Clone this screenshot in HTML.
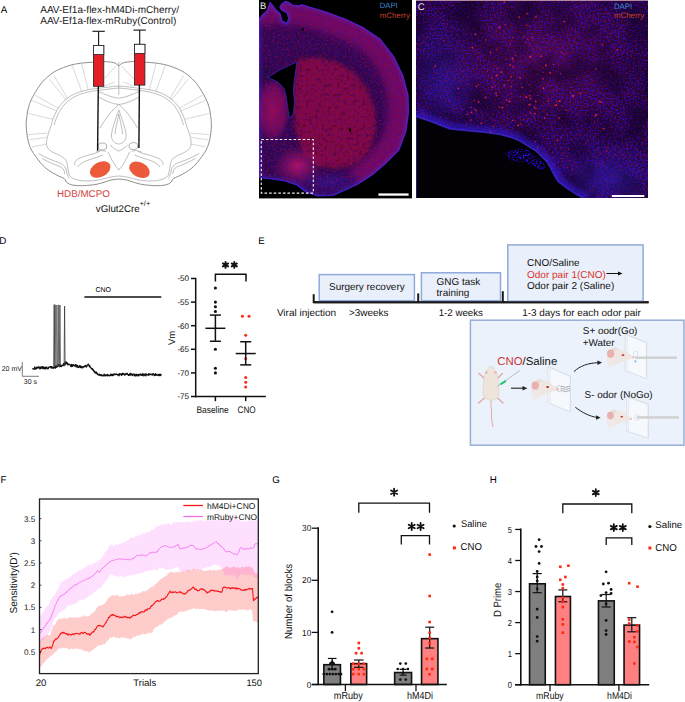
<!DOCTYPE html>
<html><head><meta charset="utf-8"><style>
html,body{margin:0;padding:0;background:#fff;}
svg{display:block;font-family:"Liberation Sans", sans-serif;text-rendering:geometricPrecision;}
</style></head><body>
<svg width="685" height="702" viewBox="0 0 685 702">
<rect width="685" height="702" fill="#fff"/>
<text x="0.8" y="12.9" font-size="9.8" fill="#000" text-anchor="start" font-weight="normal" >A</text>
<text x="40.2" y="12.8" font-size="10.05" fill="#222" text-anchor="start" font-weight="normal" >AAV-Ef1a-flex-hM4Di-mCherry/</text>
<text x="40.2" y="24.0" font-size="10.05" fill="#222" text-anchor="start" font-weight="normal" >AAV-Ef1a-flex-mRuby(Control)</text>
<g fill="none" stroke="#6a6a6a" stroke-width="0.75">
<path d="M118.8,66 C116.5,63.5 114,62.4 111.6,62.2 C108,61.7 105,61.5 103.6,61.6 C96,62 88,62.4 82.4,63 C76,63.8 72,64.6 67.8,66 C62,68 57,70 53.2,72.5 C49,75.5 46,78 43,81.3 C40,84.5 38,88 35.7,91.5 C33,96 31.3,99.5 29.8,103.2 C28.3,107.5 27.3,112 26.9,116.3 C26.4,120 26.1,123 26.2,125.8 C26.4,131 27.2,137 28.4,141.9 C30,148 32.5,152.5 35.7,156.5 C39,161 42,165 45.9,168.2 C50,171.5 54.5,174 59,176.2 C61,177.2 62.8,177.6 64.1,178.4 C65.2,179.3 65.6,180.8 66.3,182 C68,183.6 70,184.5 72.2,185 C75.5,185.6 79,185.8 82.4,185.7 C88,185.5 92,185 97,184.2 C101,183.4 105,182 108.7,180.6 C112,179.6 115.5,179.1 118.8,179.1"/>
<path d="M118.8,66 C116.5,63.5 114,62.4 111.6,62.2 C108,61.7 105,61.5 103.6,61.6 C96,62 88,62.4 82.4,63 C76,63.8 72,64.6 67.8,66 C62,68 57,70 53.2,72.5 C49,75.5 46,78 43,81.3 C40,84.5 38,88 35.7,91.5 C33,96 31.3,99.5 29.8,103.2 C28.3,107.5 27.3,112 26.9,116.3 C26.4,120 26.1,123 26.2,125.8 C26.4,131 27.2,137 28.4,141.9 C30,148 32.5,152.5 35.7,156.5 C39,161 42,165 45.9,168.2 C50,171.5 54.5,174 59,176.2 C61,177.2 62.8,177.6 64.1,178.4 C65.2,179.3 65.6,180.8 66.3,182 C68,183.6 70,184.5 72.2,185 C75.5,185.6 79,185.8 82.4,185.7 C88,185.5 92,185 97,184.2 C101,183.4 105,182 108.7,180.6 C112,179.6 115.5,179.1 118.8,179.1" transform="translate(237.6,0) scale(-1,1)"/>
</g>
<g fill="none" stroke="#a8a8a8" stroke-width="0.45">
<path d="M72.2,65.2 L81.7,91.5 M81.7,64 L88.2,89.7 M49.5,79.1 L66.3,100.3 M53.9,75.4 L67.8,98.8 M35,95.1 L58.3,108.3 M31,100 L57,111 M28.4,113.4 L52.5,119.2 M28.4,134.6 L47.4,133.1 M29.8,139.7 L46.6,137.5 M32,147 L46.6,144 M103.6,79.1 L116,66 M103.6,86.4 L114.5,82"/>
<path d="M72.2,65.2 L81.7,91.5 M81.7,64 L88.2,89.7 M49.5,79.1 L66.3,100.3 M53.9,75.4 L67.8,98.8 M35,95.1 L58.3,108.3 M31,100 L57,111 M28.4,113.4 L52.5,119.2 M28.4,134.6 L47.4,133.1 M29.8,139.7 L46.6,137.5 M32,147 L46.6,144 M103.6,79.1 L116,66 M103.6,86.4 L114.5,82" transform="translate(237.6,0) scale(-1,1)"/>
</g>
<g fill="none" stroke="#8a8a8a" stroke-width="0.55">
<path d="M118.8,86 C112,86.5 104,87.6 98.5,88.3 C94,88.8 90,89.3 86.8,90 C82,91 77.5,92.5 73.6,94.4 C69.5,96.5 66,99 63.4,101.7 C60,105 57.8,108.5 56.1,112 C54,116 52.5,120 51.7,123.6 C50.5,128 49,131 48.1,134.6 C47,138 46.3,141.5 46.6,144.8 C47,147 48,148.8 49.5,150 C52,152 55.5,153.6 59,155 C62,156.5 64,158 65.6,159.4 C67,162 67.5,165 67.8,168.2 C68.3,171 68.8,173.5 69.3,175.5 M118.8,88 C112,88.6 104,89.7 98.8,90.3 C94,90.9 90.5,91.5 87.3,92.2 C82.5,93.3 78.5,94.8 74.8,96.6 C71,98.6 67.8,101 65.3,103.6 C62,107 60,110.5 58.2,114 C56.3,118 55,121.5 54.1,125 M98.5,91.5 C105,94.5 112,97.5 118.8,98.2 M98.5,97 C105,100.5 112,104 118.8,104.5 M118.8,104.5 C112,110 106,118 100,128 M118.8,110 C116,118 112.5,127 111.5,134 C111,140 114,143.5 118.8,144 M118.8,114 C117.5,121 115.5,128 115,134 M38.6,153.6 C46,158 54,161 60,163 C63.5,164.5 65.5,167 66.3,170 C66.8,173 67.5,176 69,178.5 M42,158.5 C49,162.5 56,165 61,167 C63.5,168.5 64.5,171 64.8,174 M69.3,175.5 C72,178.5 76,180 82,180.8 C90,181.5 98,180.5 105,178.5 C110,177 114.5,176.2 118.8,176 M75.1,165.3 C73.5,163 75.5,160 80,158 C85,156 90,154.5 94.1,153.6 C96.5,152.8 98.5,152 99.9,151.4 M77.5,167 C80,163.5 85,161 90,159.5 C95,158 99,156.5 103,155 M96,152 C100,150 104,150.5 106,151.5 M110,145 C113,148 116,150 118.8,151 M108,152 C111,158 114,165 118.8,170"/>
<path d="M118.8,86 C112,86.5 104,87.6 98.5,88.3 C94,88.8 90,89.3 86.8,90 C82,91 77.5,92.5 73.6,94.4 C69.5,96.5 66,99 63.4,101.7 C60,105 57.8,108.5 56.1,112 C54,116 52.5,120 51.7,123.6 C50.5,128 49,131 48.1,134.6 C47,138 46.3,141.5 46.6,144.8 C47,147 48,148.8 49.5,150 C52,152 55.5,153.6 59,155 C62,156.5 64,158 65.6,159.4 C67,162 67.5,165 67.8,168.2 C68.3,171 68.8,173.5 69.3,175.5 M118.8,88 C112,88.6 104,89.7 98.8,90.3 C94,90.9 90.5,91.5 87.3,92.2 C82.5,93.3 78.5,94.8 74.8,96.6 C71,98.6 67.8,101 65.3,103.6 C62,107 60,110.5 58.2,114 C56.3,118 55,121.5 54.1,125 M98.5,91.5 C105,94.5 112,97.5 118.8,98.2 M98.5,97 C105,100.5 112,104 118.8,104.5 M118.8,104.5 C112,110 106,118 100,128 M118.8,110 C116,118 112.5,127 111.5,134 C111,140 114,143.5 118.8,144 M118.8,114 C117.5,121 115.5,128 115,134 M38.6,153.6 C46,158 54,161 60,163 C63.5,164.5 65.5,167 66.3,170 C66.8,173 67.5,176 69,178.5 M42,158.5 C49,162.5 56,165 61,167 C63.5,168.5 64.5,171 64.8,174 M69.3,175.5 C72,178.5 76,180 82,180.8 C90,181.5 98,180.5 105,178.5 C110,177 114.5,176.2 118.8,176 M75.1,165.3 C73.5,163 75.5,160 80,158 C85,156 90,154.5 94.1,153.6 C96.5,152.8 98.5,152 99.9,151.4 M77.5,167 C80,163.5 85,161 90,159.5 C95,158 99,156.5 103,155 M96,152 C100,150 104,150.5 106,151.5 M110,145 C113,148 116,150 118.8,151 M108,152 C111,158 114,165 118.8,170" transform="translate(237.6,0) scale(-1,1)"/>
</g>
<line x1="118.8" y1="62" x2="118.8" y2="95" stroke="#8a8a8a" stroke-width="0.55" />
<ellipse cx="102.4" cy="146.5" rx="4.3" ry="3.5" fill="#fff" stroke="#777" stroke-width="0.6"/>
<ellipse cx="133.4" cy="146.1" rx="4.3" ry="3.5" fill="#fff" stroke="#777" stroke-width="0.6"/>
<ellipse cx="100.2" cy="169.5" rx="11" ry="7.3" transform="rotate(-28 100.2 169.5)" fill="#ec5a3c"/>
<ellipse cx="139.5" cy="169.8" rx="11" ry="7.3" transform="rotate(28 139.5 169.8)" fill="#ec5a3c"/>
<line x1="92.39999999999999" y1="31.3" x2="104.8" y2="31.3" stroke="#111" stroke-width="1.1" />
<line x1="98.6" y1="31.3" x2="98.6" y2="45.5" stroke="#111" stroke-width="1.1" />
<rect x="93.39999999999999" y="45.5" width="10.4" height="40.8" fill="#e41e26" stroke="#222" stroke-width="0.8" />
<rect x="93.39999999999999" y="45.5" width="10.4" height="9.1" fill="#fff" stroke="#222" stroke-width="0.8" />
<line x1="98.3" y1="86.3" x2="97.6" y2="150.7" stroke="#111" stroke-width="1.4" />
<line x1="133.5" y1="30.1" x2="145.89999999999998" y2="30.1" stroke="#111" stroke-width="1.1" />
<line x1="139.7" y1="30.1" x2="139.7" y2="44.3" stroke="#111" stroke-width="1.1" />
<rect x="134.5" y="44.3" width="10.4" height="40.8" fill="#e41e26" stroke="#222" stroke-width="0.8" />
<rect x="134.5" y="44.3" width="10.4" height="9.1" fill="#fff" stroke="#222" stroke-width="0.8" />
<line x1="139.39999999999998" y1="85.1" x2="138.9" y2="148" stroke="#111" stroke-width="1.4" />
<text x="57" y="197.4" font-size="9.8" fill="#d2423a" text-anchor="start" font-weight="normal" >HDB/MCPO</text>
<text x="95.8" y="211.8" font-size="9.75" fill="#111" text-anchor="start" font-weight="normal" >vGlut2Cre</text>
<text x="139.4" y="206.2" font-size="7.6" fill="#111" text-anchor="start" font-weight="normal" >+/+</text>
<defs>
<clipPath id="clipB"><rect x="259" y="0" width="153" height="198.4"/></clipPath>
<clipPath id="clipC"><rect x="416" y="1" width="232" height="197"/></clipPath>
<radialGradient id="gThal" cx="0.5" cy="0.5" r="0.5"><stop offset="0" stop-color="#b8104e" stop-opacity="0.9"/><stop offset="0.7" stop-color="#a00e58" stop-opacity="0.65"/><stop offset="1" stop-color="#a00e58" stop-opacity="0"/></radialGradient>
<radialGradient id="gBox" cx="0.5" cy="0.5" r="0.5"><stop offset="0" stop-color="#d0186a" stop-opacity="0.85"/><stop offset="1" stop-color="#c0186a" stop-opacity="0"/></radialGradient>
<radialGradient id="gBlue" cx="0.5" cy="0.5" r="0.5"><stop offset="0" stop-color="#3020c0" stop-opacity="0.8"/><stop offset="1" stop-color="#3020c0" stop-opacity="0"/></radialGradient>
<filter id="spR" x="0" y="0" width="100%" height="100%" color-interpolation-filters="sRGB"><feTurbulence type="fractalNoise" baseFrequency="0.55" numOctaves="1" seed="4" result="n"/><feColorMatrix in="n" type="matrix" values="0 0 0 0 0.75  0 0 0 0 0.01  0 0 0 0 0.25  4.0 0 0 0 -2.0"/></filter>
<filter id="spB" x="0" y="0" width="100%" height="100%" color-interpolation-filters="sRGB"><feTurbulence type="fractalNoise" baseFrequency="0.6" numOctaves="1" seed="9" result="n"/><feColorMatrix in="n" type="matrix" values="0 0 0 0 0.2  0 0 0 0 0.03  0 0 0 0 1  0 0 4.2 0 -1.9"/></filter>
<filter id="spL" x="0" y="0" width="100%" height="100%" color-interpolation-filters="sRGB"><feTurbulence type="fractalNoise" baseFrequency="0.035" numOctaves="2" seed="7" result="n"/><feColorMatrix in="n" type="matrix" values="0 0 0 0 0.05  0 0 0 0 0  0 0 0 0 0.1  3 0 0 0 -1.2"/></filter>
<filter id="spI" x="0" y="0" width="100%" height="100%" color-interpolation-filters="sRGB"><feTurbulence type="fractalNoise" baseFrequency="0.32" numOctaves="1" seed="17" result="n"/><feColorMatrix in="n" type="matrix" values="0 0 0 0 0.08  0 0 0 0 0.0  0 0 0 0 0.1  -5 0 0 0 2.4"/></filter>
<filter id="spD" x="0" y="0" width="100%" height="100%" color-interpolation-filters="sRGB"><feTurbulence type="fractalNoise" baseFrequency="0.5" numOctaves="1" seed="13" result="n"/><feColorMatrix in="n" type="matrix" values="0 0 0 0 0.05  0 0 0 0 0  0 0 0 0 0.08  0 4 0 0 -1.8"/></filter>
</defs>
<rect x="259" y="0" width="153" height="198.4" fill="#000" stroke="none" stroke-width="1" />
<g clip-path="url(#clipB)">
<path d="M259,19 L263,14.5 L267,11 L270,2.5 L273,6 L276,10 L280,13.5 L282,21 L287.2,23.4 L288.7,18.2 L287.2,13.1 L282,10.2 L279.9,7.3 L281.4,4.4 L285.7,1.5 L289.4,2.9 L292.3,5.1 L298.9,5.8 L301.8,4.7 L307.6,6.6 L326,12 L345,19 L362,27 L380,39 L394,57 L403,76 L408,95 L408.5,112 L406,131 L399,150 L386,163 L372,175 L358,184 L345,190 L333,195.5 L318,196 L306,192 L297,185 L285,181 L272,179 L262,178 L259,177 Z" fill="#300848" stroke="#3a20e0" stroke-width="1.2"/>
<clipPath id="clipTis"><path d="M259,19 L263,14.5 L267,11 L270,2.5 L273,6 L276,10 L280,13.5 L282,21 L287.2,23.4 L288.7,18.2 L287.2,13.1 L282,10.2 L279.9,7.3 L281.4,4.4 L285.7,1.5 L289.4,2.9 L292.3,5.1 L298.9,5.8 L301.8,4.7 L307.6,6.6 L326,12 L345,19 L362,27 L380,39 L394,57 L403,76 L408,95 L408.5,112 L406,131 L399,150 L386,163 L372,175 L358,184 L345,190 L333,195.5 L318,196 L306,192 L297,185 L285,181 L272,179 L262,178 L259,177 Z"/></clipPath>
<g clip-path="url(#clipTis)">
<filter id="bl4" x="-20%" y="-20%" width="140%" height="140%"><feGaussianBlur stdDeviation="4"/></filter>
<filter id="bl2" x="-20%" y="-20%" width="140%" height="140%"><feGaussianBlur stdDeviation="2"/></filter>
<path d="M262,15 L270,2.5 L276,10 L280,13.5 M281.4,4.4 L285.7,1.5 L292.3,5.1 L301.8,4.7 L307.6,6.6 L326,12 L345,19 L362,27 L380,39 L394,57 L403,76 L408,95 L408.5,112 L406,131 L399,150 L386,163 L372,175 L358,184" fill="none" stroke="#b0106a" stroke-width="40" opacity="0.5" filter="url(#bl4)"/>
<ellipse cx="265" cy="72" rx="9" ry="8" fill="#1a0838" opacity="0.6" filter="url(#bl2)"/>
<path d="M297,59 L318,57 L337,62 L355,73 L368,90 L375,110 L376,130 L370,150 L355,164 L336,169 L318,166 L305,156 L298,140 L294,120 L293,100 L295,75 Z" fill="none" stroke="#1e0830" stroke-width="7" opacity="0.35" filter="url(#bl2)"/>
<path d="M297,59 L318,57 L337,62 L355,73 L368,90 L375,110 L376,130 L370,150 L355,164 L336,169 L318,166 L305,156 L298,140 L294,120 L293,100 L295,75 Z" fill="#b81034" opacity="0.6" filter="url(#bl2)"/>
<clipPath id="cStri"><path d="M297,59 L318,57 L337,62 L355,73 L368,90 L375,110 L376,130 L370,150 L355,164 L336,169 L318,166 L305,156 L298,140 L294,120 L293,100 L295,75 Z"/></clipPath>
<g clip-path="url(#cStri)"><rect x="290" y="55" width="90" height="118" filter="url(#spI)" opacity="0.3"/></g>
<ellipse cx="273" cy="110" rx="17" ry="32" fill="url(#gThal)" opacity="0.85"/>
<ellipse cx="298" cy="166" rx="24" ry="20" fill="url(#gBox)" opacity="0.95"/>
<ellipse cx="330" cy="182" rx="40" ry="12" fill="url(#gBlue)" opacity="0.5"/>
<rect x="259" y="0" width="153" height="198" filter="url(#spB)" opacity="0.3"/>
<rect x="259" y="0" width="153" height="198" filter="url(#spR)" opacity="0.45"/>
<path d="M259,19 L263,14.5 L267,11 L270,2.5 L273,6 L276,10 L280,13.5 L282,21 L287.2,23.4 L288.7,18.2 L287.2,13.1 L282,10.2 L279.9,7.3 L281.4,4.4 L285.7,1.5 L289.4,2.9 L292.3,5.1 L298.9,5.8 L301.8,4.7 L307.6,6.6 L326,12 L345,19 L362,27 L380,39 L394,57 L403,76 L408,95 L408.5,112 L406,131 L399,150 L386,163 L372,175 L358,184 L345,190 L333,195.5 L318,196 L306,192 L297,185 L285,181 L272,179 L262,178 L259,177 Z" fill="none" stroke="#4a36e8" stroke-width="3.5" opacity="0.45" filter="url(#bl2)"/>
</g>
<path d="M267.7,77.4 L280.8,69.4 L296.8,62 L296.2,67.1 L294.5,78.5 L293.4,90 L294.5,101.3 L293.4,113.9 L289.4,118.4 L287.7,107 L286,95.6 L284.2,88.8 L278.5,82.5 L271.7,79.1 Z" fill="#000" stroke="#3a2ad0" stroke-width="0.7"/>
<ellipse cx="303" cy="29.5" rx="0.9" ry="1.8" fill="#000"/>
<ellipse cx="350" cy="130" rx="1" ry="2" fill="#000"/>
</g>
<rect x="261.3" y="139.5" width="52" height="53.6" fill="none" stroke="#f4f4f4" stroke-width="1.1" stroke-dasharray="2.6,2"/>
<rect x="378.4" y="193.4" width="30.2" height="2.3" fill="#fff" stroke="none" stroke-width="1" />
<text x="260" y="9.3" font-size="9.4" fill="#f0f0f0" text-anchor="start" font-weight="normal" >B</text>
<text x="379.8" y="7.7" font-size="7.7" fill="#3a88d0" text-anchor="start" font-weight="normal" >DAPI</text>
<text x="379.8" y="17.9" font-size="7.85" fill="#c8402c" text-anchor="start" font-weight="normal" >mCherry</text>
<defs><radialGradient id="gCred" cx="0.5" cy="0.5" r="0.5"><stop offset="0" stop-color="#a01450" stop-opacity="0.6"/><stop offset="1" stop-color="#a01450" stop-opacity="0"/></radialGradient></defs>
<g clip-path="url(#clipC)">
<rect x="416" y="0" width="232" height="198.4" fill="#1e0630" stroke="none" stroke-width="1" />
<ellipse cx="540" cy="60" rx="110" ry="80" fill="url(#gCred)" opacity="0.55"/>
<ellipse cx="600" cy="175" rx="70" ry="45" fill="url(#gBlue)" opacity="0.45"/>
<ellipse cx="450" cy="95" rx="45" ry="40" fill="url(#gBlue)" opacity="0.35"/>
<rect x="416" y="0" width="232" height="198" filter="url(#spB)" opacity="0.7"/>
<rect x="416" y="0" width="232" height="198" filter="url(#spR)" opacity="0.5"/>
<rect x="416" y="0" width="232" height="198" filter="url(#spL)" opacity="0.5"/>
<circle cx="557.7" cy="140.3" r="0.82" fill="#ff2040" opacity="0.79"/>
<circle cx="540.8" cy="157.8" r="0.90" fill="#ff2040" opacity="0.80"/>
<circle cx="494.2" cy="84.0" r="0.50" fill="#ff2040" opacity="0.75"/>
<circle cx="511.3" cy="76.9" r="0.90" fill="#ff2040" opacity="0.69"/>
<circle cx="526.3" cy="97.3" r="1.00" fill="#ff2040" opacity="0.90"/>
<circle cx="566.1" cy="43.9" r="0.52" fill="#ff2040" opacity="0.73"/>
<circle cx="504.2" cy="85.3" r="0.98" fill="#ff2040" opacity="0.75"/>
<circle cx="568.6" cy="149.0" r="0.56" fill="#ff2040" opacity="0.97"/>
<circle cx="474.1" cy="100.4" r="0.67" fill="#ff2040" opacity="0.79"/>
<circle cx="529.5" cy="95.7" r="0.93" fill="#ff2040" opacity="0.69"/>
<circle cx="530.4" cy="56.8" r="0.98" fill="#ff2040" opacity="0.96"/>
<circle cx="527.1" cy="13.8" r="0.79" fill="#ff2040" opacity="0.89"/>
<circle cx="559.3" cy="118.2" r="0.91" fill="#ff2040" opacity="0.68"/>
<circle cx="602.8" cy="44.2" r="0.70" fill="#ff2040" opacity="0.75"/>
<circle cx="485.5" cy="97.5" r="1.00" fill="#ff2040" opacity="0.75"/>
<circle cx="543.3" cy="88.1" r="0.86" fill="#ff2040" opacity="1.00"/>
<circle cx="476.2" cy="86.2" r="0.78" fill="#ff2040" opacity="0.90"/>
<circle cx="535.1" cy="141.7" r="0.78" fill="#ff2040" opacity="0.85"/>
<circle cx="535.8" cy="108.3" r="0.67" fill="#ff2040" opacity="0.97"/>
<circle cx="492.7" cy="131.5" r="0.65" fill="#ff2040" opacity="0.64"/>
<circle cx="595.5" cy="115.9" r="0.89" fill="#ff2040" opacity="0.75"/>
<circle cx="499.4" cy="27.4" r="0.95" fill="#ff2040" opacity="0.98"/>
<circle cx="419.7" cy="154.7" r="0.98" fill="#ff2040" opacity="0.84"/>
<circle cx="561.2" cy="52.3" r="0.69" fill="#ff2040" opacity="0.70"/>
<circle cx="542.8" cy="67.5" r="0.53" fill="#ff2040" opacity="0.92"/>
<circle cx="532.2" cy="37.3" r="0.92" fill="#ff2040" opacity="0.62"/>
<circle cx="523.3" cy="119.7" r="0.71" fill="#ff2040" opacity="0.67"/>
<circle cx="559.6" cy="101.1" r="0.95" fill="#ff2040" opacity="0.99"/>
<circle cx="523.7" cy="37.1" r="0.63" fill="#ff2040" opacity="0.98"/>
<circle cx="458.0" cy="74.1" r="0.51" fill="#ff2040" opacity="0.68"/>
<circle cx="564.4" cy="21.4" r="0.94" fill="#ff2040" opacity="0.84"/>
<circle cx="475.5" cy="109.8" r="0.92" fill="#ff2040" opacity="0.72"/>
<circle cx="492.0" cy="77.8" r="0.88" fill="#ff2040" opacity="0.60"/>
<circle cx="580.8" cy="93.3" r="0.82" fill="#ff2040" opacity="0.94"/>
<circle cx="497.1" cy="68.6" r="0.70" fill="#ff2040" opacity="0.98"/>
<circle cx="543.6" cy="72.4" r="0.55" fill="#ff2040" opacity="0.64"/>
<circle cx="570.1" cy="92.2" r="0.57" fill="#ff2040" opacity="0.95"/>
<circle cx="512.8" cy="66.9" r="0.77" fill="#ff2040" opacity="0.73"/>
<circle cx="495.4" cy="86.1" r="0.58" fill="#ff2040" opacity="0.67"/>
<circle cx="477.5" cy="130.9" r="0.78" fill="#ff2040" opacity="0.62"/>
<circle cx="504.2" cy="2.1" r="0.89" fill="#ff2040" opacity="0.92"/>
<circle cx="571.8" cy="87.3" r="0.53" fill="#ff2040" opacity="0.91"/>
<circle cx="555.0" cy="144.1" r="0.63" fill="#ff2040" opacity="0.88"/>
<circle cx="520.2" cy="96.3" r="0.69" fill="#ff2040" opacity="0.72"/>
<circle cx="553.5" cy="64.5" r="0.75" fill="#ff2040" opacity="0.82"/>
<circle cx="543.1" cy="78.9" r="0.80" fill="#ff2040" opacity="0.80"/>
<circle cx="501.0" cy="145.5" r="0.76" fill="#ff2040" opacity="0.82"/>
<circle cx="596.0" cy="115.1" r="0.99" fill="#ff2040" opacity="0.74"/>
<circle cx="538.0" cy="95.5" r="0.54" fill="#ff2040" opacity="0.93"/>
<circle cx="527.9" cy="39.3" r="0.81" fill="#ff2040" opacity="0.61"/>
<circle cx="497.1" cy="49.2" r="0.76" fill="#ff2040" opacity="0.76"/>
<circle cx="500.5" cy="102.4" r="0.52" fill="#ff2040" opacity="0.77"/>
<circle cx="526.2" cy="150.5" r="0.91" fill="#ff2040" opacity="0.89"/>
<circle cx="495.3" cy="93.4" r="0.69" fill="#ff2040" opacity="0.79"/>
<circle cx="452.0" cy="5.5" r="0.54" fill="#ff2040" opacity="0.79"/>
<circle cx="458.3" cy="88.4" r="0.95" fill="#ff2040" opacity="0.91"/>
<circle cx="475.5" cy="34.4" r="0.83" fill="#ff2040" opacity="0.94"/>
<circle cx="505.0" cy="24.6" r="0.62" fill="#ff2040" opacity="0.97"/>
<circle cx="481.3" cy="123.1" r="0.91" fill="#ff2040" opacity="0.99"/>
<circle cx="529.7" cy="84.7" r="0.66" fill="#ff2040" opacity="0.72"/>
<circle cx="506.7" cy="99.9" r="0.78" fill="#ff2040" opacity="0.63"/>
<circle cx="492.3" cy="180.2" r="0.87" fill="#ff2040" opacity="0.78"/>
<circle cx="606.6" cy="151.0" r="0.85" fill="#ff2040" opacity="0.68"/>
<circle cx="494.3" cy="136.7" r="0.84" fill="#ff2040" opacity="0.70"/>
<circle cx="560.3" cy="73.8" r="0.63" fill="#ff2040" opacity="0.94"/>
<circle cx="561.2" cy="137.2" r="0.60" fill="#ff2040" opacity="0.84"/>
<circle cx="518.0" cy="125.4" r="0.97" fill="#ff2040" opacity="0.79"/>
<circle cx="471.3" cy="107.5" r="0.64" fill="#ff2040" opacity="0.67"/>
<circle cx="499.9" cy="107.2" r="0.59" fill="#ff2040" opacity="0.98"/>
<circle cx="599.8" cy="101.4" r="0.97" fill="#ff2040" opacity="0.88"/>
<circle cx="574.2" cy="90.9" r="0.52" fill="#ff2040" opacity="0.84"/>
<circle cx="515.5" cy="55.4" r="0.50" fill="#ff2040" opacity="0.82"/>
<circle cx="554.9" cy="105.2" r="0.73" fill="#ff2040" opacity="0.96"/>
<circle cx="509.5" cy="101.5" r="0.90" fill="#ff2040" opacity="0.93"/>
<circle cx="511.9" cy="82.5" r="0.59" fill="#ff2040" opacity="0.76"/>
<circle cx="496.6" cy="75.4" r="0.90" fill="#ff2040" opacity="0.94"/>
<circle cx="602.6" cy="45.5" r="0.51" fill="#ff2040" opacity="0.83"/>
<circle cx="603.8" cy="128.6" r="0.87" fill="#ff2040" opacity="0.90"/>
<circle cx="530.6" cy="98.6" r="0.91" fill="#ff2040" opacity="0.84"/>
<circle cx="490.5" cy="52.5" r="0.90" fill="#ff2040" opacity="0.74"/>
<circle cx="520.2" cy="123.9" r="0.65" fill="#ff2040" opacity="0.85"/>
<circle cx="537.4" cy="74.7" r="0.53" fill="#ff2040" opacity="0.80"/>
<circle cx="513.1" cy="60.5" r="0.63" fill="#ff2040" opacity="0.62"/>
<circle cx="572.8" cy="96.4" r="0.84" fill="#ff2040" opacity="0.86"/>
<circle cx="535.7" cy="101.5" r="0.97" fill="#ff2040" opacity="0.82"/>
<circle cx="471.0" cy="120.0" r="0.86" fill="#ff2040" opacity="0.81"/>
<circle cx="594.4" cy="122.2" r="0.61" fill="#ff2040" opacity="0.62"/>
<circle cx="494.0" cy="126.5" r="0.81" fill="#ff2040" opacity="0.67"/>
<circle cx="512.7" cy="37.6" r="0.58" fill="#ff2040" opacity="0.94"/>
<circle cx="512.4" cy="58.4" r="0.89" fill="#ff2040" opacity="0.96"/>
<circle cx="435.2" cy="65.9" r="0.99" fill="#ff2040" opacity="0.76"/>
<circle cx="617.2" cy="49.7" r="0.90" fill="#ff2040" opacity="0.60"/>
<circle cx="490.4" cy="131.4" r="0.80" fill="#ff2040" opacity="0.90"/>
<circle cx="510.0" cy="65.1" r="0.97" fill="#ff2040" opacity="0.81"/>
<circle cx="546.0" cy="65.6" r="1.00" fill="#ff2040" opacity="0.82"/>
<circle cx="536.0" cy="17.0" r="0.94" fill="#ff2040" opacity="0.74"/>
<circle cx="562.2" cy="106.3" r="0.59" fill="#ff2040" opacity="0.82"/>
<circle cx="540.8" cy="48.4" r="0.57" fill="#ff2040" opacity="0.61"/>
<circle cx="476.0" cy="110.8" r="0.51" fill="#ff2040" opacity="0.87"/>
<circle cx="529.9" cy="104.4" r="0.96" fill="#ff2040" opacity="0.81"/>
<circle cx="564.9" cy="54.1" r="0.56" fill="#ff2040" opacity="0.70"/>
<circle cx="471.6" cy="112.5" r="0.89" fill="#ff2040" opacity="0.90"/>
<circle cx="506.3" cy="59.0" r="0.72" fill="#ff2040" opacity="0.75"/>
<circle cx="492.1" cy="87.2" r="0.77" fill="#ff2040" opacity="0.78"/>
<circle cx="601.2" cy="102.3" r="0.79" fill="#ff2040" opacity="0.92"/>
<circle cx="519.3" cy="17.2" r="1.00" fill="#ff2040" opacity="0.75"/>
<circle cx="522.1" cy="87.3" r="0.83" fill="#ff2040" opacity="0.83"/>
<circle cx="534.9" cy="113.5" r="0.87" fill="#ff2040" opacity="0.92"/>
<circle cx="511.0" cy="86.5" r="0.69" fill="#ff2040" opacity="0.93"/>
<circle cx="478.3" cy="85.0" r="0.69" fill="#ff2040" opacity="0.85"/>
<circle cx="472.4" cy="47.6" r="0.93" fill="#ff2040" opacity="0.90"/>
<circle cx="502.5" cy="107.6" r="0.89" fill="#ff2040" opacity="0.92"/>
<circle cx="550.2" cy="72.8" r="0.92" fill="#ff2040" opacity="0.96"/>
<circle cx="556.9" cy="101.8" r="0.82" fill="#ff2040" opacity="0.66"/>
<circle cx="541.1" cy="56.2" r="0.84" fill="#ff2040" opacity="0.72"/>
<circle cx="530.7" cy="113.0" r="0.75" fill="#ff2040" opacity="0.89"/>
<circle cx="537.8" cy="147.7" r="0.67" fill="#ff2040" opacity="0.86"/>
<circle cx="506.4" cy="105.3" r="0.57" fill="#ff2040" opacity="0.62"/>
<circle cx="510.6" cy="44.0" r="0.56" fill="#ff2040" opacity="0.95"/>
<circle cx="520.1" cy="77.8" r="0.86" fill="#ff2040" opacity="0.84"/>
<circle cx="478.6" cy="102.1" r="0.98" fill="#ff2040" opacity="0.75"/>
<circle cx="485.9" cy="39.9" r="0.68" fill="#ff2040" opacity="0.74"/>
<circle cx="526.9" cy="25.3" r="0.73" fill="#ff2040" opacity="0.81"/>
<circle cx="537.3" cy="158.1" r="0.51" fill="#ff2040" opacity="0.86"/>
<circle cx="496.5" cy="93.3" r="0.79" fill="#ff2040" opacity="0.83"/>
<circle cx="566.7" cy="110.3" r="0.58" fill="#ff2040" opacity="0.92"/>
<circle cx="507.6" cy="118.2" r="0.61" fill="#ff2040" opacity="0.62"/>
<circle cx="534.3" cy="107.2" r="0.81" fill="#ff2040" opacity="0.94"/>
<circle cx="528.7" cy="105.1" r="0.77" fill="#ff2040" opacity="0.65"/>
<circle cx="466.2" cy="124.8" r="0.60" fill="#ff2040" opacity="0.88"/>
<circle cx="507.8" cy="80.7" r="0.62" fill="#ff2040" opacity="0.84"/>
<circle cx="548.3" cy="101.1" r="0.79" fill="#ff2040" opacity="0.93"/>
<circle cx="463.5" cy="77.1" r="0.50" fill="#ff2040" opacity="0.72"/>
<circle cx="486.4" cy="169.5" r="0.68" fill="#ff2040" opacity="0.91"/>
<circle cx="573.2" cy="95.6" r="0.95" fill="#ff2040" opacity="0.91"/>
<circle cx="501.6" cy="72.2" r="0.96" fill="#ff2040" opacity="0.63"/>
<circle cx="595.9" cy="69.0" r="0.86" fill="#ff2040" opacity="0.81"/>
<circle cx="544.7" cy="117.9" r="0.83" fill="#ff2040" opacity="0.86"/>
<circle cx="467.0" cy="133.4" r="0.53" fill="#ff2040" opacity="0.71"/>
<circle cx="556.4" cy="105.0" r="0.90" fill="#ff2040" opacity="0.90"/>
<circle cx="546.3" cy="114.1" r="0.56" fill="#ff2040" opacity="0.86"/>
<circle cx="496.5" cy="95.8" r="0.69" fill="#ff2040" opacity="0.95"/>
<circle cx="467.6" cy="114.2" r="0.81" fill="#ff2040" opacity="0.79"/>
<circle cx="487.5" cy="71.1" r="0.60" fill="#ff2040" opacity="0.80"/>
<circle cx="512.4" cy="120.4" r="0.59" fill="#ff2040" opacity="0.97"/>
<ellipse cx="440" cy="70" rx="35" ry="60" fill="url(#gBlue)" opacity="0.35"/>
<path d="M416,116.4 L432,122 L450,128.9 L470,131 L484,132.3 L500,134.5 L511,137.4 L520,141 L528,146 L536,151 L542,157 L547,162 L550,167 L553,173 L558,181.4 L565,187 L572,191.6 L582,197.7 L582,199 L416,199 Z" fill="none" stroke="#3420ff" stroke-width="12" opacity="0.45" filter="url(#bl2)"/>
<ellipse cx="610" cy="180" rx="45" ry="25" fill="url(#gBlue)" opacity="0.5"/>
<path d="M416,116.4 L432,122 L450,128.9 L470,131 L484,132.3 L500,134.5 L511,137.4 L520,141 L528,146 L536,151 L542,157 L547,162 L550,167 L553,173 L558,181.4 L565,187 L572,191.6 L582,197.7 L582,199 L416,199 Z" fill="#030006"/>
<path d="M416,116.4 L432,122 L450,128.9 L470,131 L484,132.3 L500,134.5 L511,137.4 L520,141 L528,146 L536,151 L542,157 L547,162 L550,167 L553,173 L558,181.4 L565,187 L572,191.6 L582,197.7 L582,199 L416,199 Z" fill="none" stroke="#4a36f0" stroke-width="1.5" opacity="0.6"/>
<clipPath id="cPatch"><path d="M505,153 L518,148 L528,150 L534,156 L541,160 L546,166 L542,171 L534,166 L522,162 L510,161 Z"/></clipPath>
<g clip-path="url(#cPatch)"><rect x="500" y="140" width="50" height="35" filter="url(#spB)" opacity="0.9"/></g>
</g>
<rect x="416" y="0" width="232" height="0.9" fill="#a87a94" stroke="none" stroke-width="1" />
<rect x="611.8" y="195" width="32.5" height="2" fill="#fff" stroke="none" stroke-width="1" />
<text x="417.8" y="10.4" font-size="9.6" fill="#f0f0f0" text-anchor="start" font-weight="normal" >C</text>
<text x="613.9" y="9.4" font-size="7.9" fill="#3a88d0" text-anchor="start" font-weight="normal" >DAPI</text>
<text x="613.9" y="18.4" font-size="7.9" fill="#c8402c" text-anchor="start" font-weight="normal" >mCherry</text>
<text x="-0.7" y="244.2" font-size="9.8" fill="#000" text-anchor="start" font-weight="normal" >D</text>
<text x="95.5" y="292" font-size="7.0" fill="#000" text-anchor="start" font-weight="normal" >CNO</text>
<line x1="84.4" y1="297" x2="161.3" y2="297" stroke="#111" stroke-width="1.3" />
<path d="M32.30,368.47 L32.70,368.71 L33.10,368.81 L33.50,369.11 L33.90,368.64 L34.30,369.03 L34.70,367.04 L35.10,367.98 L35.50,369.01 L35.90,368.34 L36.30,368.87 L36.70,367.12 L37.10,367.88 L37.50,367.37 L37.90,368.01 L38.30,368.05 L38.70,366.80 L39.10,367.22 L39.50,367.34 L39.90,368.72 L40.30,368.38 L40.70,367.04 L41.10,368.44 L41.50,366.98 L41.90,368.03 L42.30,366.94 L42.70,366.66 L43.10,368.57 L43.50,367.11 L43.90,367.12 L44.30,368.80 L44.70,368.55 L45.10,367.26 L45.50,368.73 L45.90,367.80 L46.30,368.10 L46.70,367.05 L47.10,368.66 L47.50,368.11 L47.90,368.71 L48.30,368.54 L48.70,367.23 L49.10,367.36 L49.50,366.92 L49.90,366.87 L50.30,366.69 L50.70,367.20 L51.10,367.86 L51.50,366.54 L51.90,368.02 L52.30,367.26 L52.70,367.19 L53.10,368.31 L53.50,367.56 L53.90,367.07 L54.30,367.30 L54.70,367.67 L55.10,366.11 L55.50,368.01 L55.90,365.78 L56.30,367.20 L56.70,367.21 L57.10,365.19 L57.50,366.68 L57.90,365.56 L58.30,365.96 L58.70,364.68 L59.10,364.75 L59.50,365.02 L59.90,366.71 L60.30,365.02 L60.70,366.23 L61.10,366.59 L61.50,366.60 L61.90,365.26 L62.30,365.09 L62.70,365.21 L63.10,365.50 L63.50,363.78 L63.90,364.93 L64.30,364.78 L64.70,364.62 L65.10,362.47 L65.50,364.13 L65.90,361.91 L66.30,362.12 L66.70,362.77 L67.10,363.90 L67.50,363.08 L67.90,364.82 L68.30,364.34 L68.70,364.15 L69.10,364.48 L69.50,364.49 L69.90,364.59 L70.30,364.80 L70.70,365.95 L71.10,366.58 L71.50,364.71 L71.90,364.42 L72.30,366.44 L72.70,365.40 L73.10,365.08 L73.50,364.67 L73.90,365.42 L74.30,366.02 L74.70,365.33 L75.10,365.39 L75.50,364.71 L75.90,366.73 L76.30,364.92 L76.70,366.06 L77.10,366.95 L77.50,365.52 L77.90,366.98 L78.30,367.51 L78.70,366.84 L79.10,367.22 L79.50,365.75 L79.90,366.50 L80.30,365.90 L80.70,367.46 L81.10,366.28 L81.50,366.66 L81.90,367.89 L82.30,367.54 L82.70,367.76 L83.10,366.56 L83.50,366.59 L83.90,367.07 L84.30,366.47 L84.70,366.00 L85.10,366.20 L85.50,365.58 L85.90,366.04 L86.30,367.07 L86.70,366.61 L87.10,365.48 L87.50,364.80 L87.90,364.55 L88.30,364.11 L88.70,364.62 L89.10,365.94 L89.50,366.58 L89.90,365.93 L90.30,367.32 L90.70,367.76 L91.10,368.04 L91.50,368.44 L91.90,369.12 L92.30,368.72 L92.70,369.93 L93.10,369.47 L93.50,370.39 L93.90,371.48 L94.30,371.70 L94.70,371.20 L95.10,373.01 L95.50,372.73 L95.90,372.95 L96.30,372.07 L96.70,373.62 L97.10,373.28 L97.50,374.34 L97.90,374.02 L98.30,374.93 L98.70,374.69 L99.10,375.15 L99.50,374.30 L99.90,375.08 L100.30,375.34 L100.70,375.55 L101.10,374.51 L101.50,375.61 L101.90,375.69 L102.30,375.31 L102.70,375.96 L103.10,375.93 L103.50,374.98 L103.90,375.02 L104.30,374.24 L104.70,375.73 L105.10,375.97 L105.50,374.97 L105.90,375.46 L106.30,375.54 L106.70,375.57 L107.10,374.36 L107.50,375.72 L107.90,375.29 L108.30,375.50 L108.70,374.97 L109.10,375.44 L109.50,375.78 L109.90,375.50 L110.30,375.67 L110.70,374.13 L111.10,374.41 L111.50,375.01 L111.90,375.45 L112.30,374.49 L112.70,375.50 L113.10,375.36 L113.50,374.05 L113.90,374.98 L114.30,374.43 L114.70,374.03 L115.10,374.19 L115.50,374.58 L115.90,374.26 L116.30,374.27 L116.70,373.91 L117.10,374.84 L117.50,374.64 L117.90,375.13 L118.30,375.07 L118.70,374.28 L119.10,375.72 L119.50,373.72 L119.90,374.60 L120.30,374.27 L120.70,374.50 L121.10,373.79 L121.50,375.30 L121.90,374.24 L122.30,373.43 L122.70,374.64 L123.10,373.44 L123.50,374.37 L123.90,373.86 L124.30,374.33 L124.70,375.10 L125.10,374.74 L125.50,373.80 L125.90,374.60 L126.30,374.26 L126.70,373.71 L127.10,373.27 L127.50,374.32 L127.90,374.31 L128.30,375.23 L128.70,375.31 L129.10,374.57 L129.50,374.06 L129.90,375.31 L130.30,373.40 L130.70,373.70 L131.10,374.75 L131.50,374.87 L131.90,373.84 L132.30,374.93 L132.70,375.52 L133.10,374.40 L133.50,374.53 L133.90,374.09 L134.30,374.25 L134.70,375.76 L135.10,374.47 L135.50,375.76 L135.90,375.67 L136.30,374.99 L136.70,374.26 L137.10,375.86 L137.50,374.81 L137.90,374.64 L138.30,374.45 L138.70,375.92 L139.10,374.85 L139.50,374.41 L139.90,374.85 L140.30,374.06 L140.70,375.14 L141.10,374.73 L141.50,374.38 L141.90,375.44 L142.30,375.53 L142.70,373.72 L143.10,374.85 L143.50,374.26 L143.90,375.70 L144.30,375.35 L144.70,374.15 L145.10,374.18 L145.50,373.92 L145.90,375.74 L146.30,374.19 L146.70,374.87 L147.10,374.56 L147.50,374.92 L147.90,374.81 L148.30,375.10 L148.70,373.71 L149.10,375.11 L149.50,374.08 L149.90,374.58 L150.30,374.15 L150.70,374.07 L151.10,374.59 L151.50,374.46 L151.90,374.24 L152.30,375.10 L152.70,374.77 L153.10,373.56 L153.50,374.05 L153.90,374.51 L154.30,375.53 L154.70,375.48 L155.10,374.74 L155.50,373.58 L155.90,375.27 L156.30,374.51 L156.70,374.84 L157.10,375.15 L157.50,374.99 L157.90,374.67 L158.30,375.63 L158.70,374.48 L159.10,374.50 L159.50,375.53 L159.90,374.10 L160.30,374.33 L160.70,375.51 L161.10,373.84" fill="none" stroke="#111" stroke-width="1.35" stroke-linejoin="round"/>
<path d="M53.7,366.5 L54.2,304.6 L54.7,366" fill="none" stroke="#222" stroke-width="0.75"/>
<path d="M54.8,366.5 L55.3,304.8 L55.8,366" fill="none" stroke="#555" stroke-width="0.75"/>
<path d="M56.2,366.5 L56.7,305 L57.2,366" fill="none" stroke="#666" stroke-width="0.75"/>
<path d="M57.7,366.5 L58.2,304.8 L58.7,366" fill="none" stroke="#444" stroke-width="0.75"/>
<path d="M59.4,366.5 L59.9,305 L60.4,366" fill="none" stroke="#333" stroke-width="0.75"/>
<path d="M64.1,366.5 L64.6,306.2 L65.1,366" fill="none" stroke="#333" stroke-width="0.75"/>
<path d="M22.3,361.8 L22.3,376.3 L39,376.3" fill="none" stroke="#444" stroke-width="0.7"/>
<text x="1.7" y="371" font-size="7.0" fill="#222" text-anchor="start" font-weight="normal" >20 mV</text>
<text x="23.8" y="384.2" font-size="7.0" fill="#222" text-anchor="start" font-weight="normal" >30 s</text>
<line x1="195.7" y1="277.75" x2="195.7" y2="397.35" stroke="#111" stroke-width="1.5" />
<line x1="194.95" y1="396.6" x2="265.8" y2="396.6" stroke="#111" stroke-width="1.5" />
<line x1="191" y1="278.5" x2="195.7" y2="278.5" stroke="#111" stroke-width="1.5" />
<text x="189.1" y="281.45" font-size="8.1" fill="#111" text-anchor="end" font-weight="normal" >-50</text>
<line x1="191" y1="302.1" x2="195.7" y2="302.1" stroke="#111" stroke-width="1.5" />
<text x="189.1" y="305.05" font-size="8.1" fill="#111" text-anchor="end" font-weight="normal" >-55</text>
<line x1="191" y1="325.7" x2="195.7" y2="325.7" stroke="#111" stroke-width="1.5" />
<text x="189.1" y="328.65" font-size="8.1" fill="#111" text-anchor="end" font-weight="normal" >-60</text>
<line x1="191" y1="349.3" x2="195.7" y2="349.3" stroke="#111" stroke-width="1.5" />
<text x="189.1" y="352.25" font-size="8.1" fill="#111" text-anchor="end" font-weight="normal" >-65</text>
<line x1="191" y1="372.9" x2="195.7" y2="372.9" stroke="#111" stroke-width="1.5" />
<text x="189.1" y="375.84999999999997" font-size="8.1" fill="#111" text-anchor="end" font-weight="normal" >-70</text>
<line x1="191" y1="396.5" x2="195.7" y2="396.5" stroke="#111" stroke-width="1.5" />
<text x="189.1" y="399.45" font-size="8.1" fill="#111" text-anchor="end" font-weight="normal" >-75</text>
<line x1="215.4" y1="396.6" x2="215.4" y2="401.2" stroke="#111" stroke-width="1.5" />
<line x1="245.7" y1="396.6" x2="245.7" y2="401.2" stroke="#111" stroke-width="1.5" />
<text x="196.4" y="412.9" font-size="9.5" fill="#111" textLength="32.3" lengthAdjust="spacingAndGlyphs" >Baseline</text>
<text x="237.5" y="412.9" font-size="9.5" fill="#111" textLength="18.1" lengthAdjust="spacingAndGlyphs" >CNO</text>
<text transform="translate(175,337.9) rotate(-90)" font-size="9.6" fill="#111" text-anchor="middle">Vm</text>
<path d="M215.4,281.6 L215.4,274.2 L246,274.2 L246,281.6" fill="none" stroke="#111" stroke-width="1.5"/>
<path d="M225.5,261.90 L225.5,267.90 M222.90,263.40 L228.10,266.40 M222.90,266.40 L228.10,263.40" stroke="#111" stroke-width="1.9" stroke-linecap="round" fill="none"/>
<path d="M234.3,261.90 L234.3,267.90 M231.70,263.40 L236.90,266.40 M231.70,266.40 L236.90,263.40" stroke="#111" stroke-width="1.9" stroke-linecap="round" fill="none"/>
<circle cx="215.4" cy="287.94" r="1.55" fill="#111"/>
<circle cx="215.4" cy="302.10" r="1.55" fill="#111"/>
<circle cx="215.4" cy="306.82" r="1.55" fill="#111"/>
<circle cx="215.4" cy="311.54" r="1.55" fill="#111"/>
<circle cx="215.4" cy="349.30" r="1.55" fill="#111"/>
<circle cx="215.4" cy="368.18" r="1.55" fill="#111"/>
<circle cx="215.4" cy="372.90" r="1.55" fill="#111"/>
<circle cx="242.4" cy="316.26" r="1.5" fill="#fa2a18"/>
<circle cx="249" cy="316.26" r="1.5" fill="#fa2a18"/>
<circle cx="245.7" cy="335.14" r="1.5" fill="#fa2a18"/>
<circle cx="245.7" cy="358.74" r="1.5" fill="#fa2a18"/>
<circle cx="245.7" cy="377.62" r="1.5" fill="#fa2a18"/>
<circle cx="245.7" cy="382.34" r="1.5" fill="#fa2a18"/>
<circle cx="245.7" cy="387.06" r="1.5" fill="#fa2a18"/>
<line x1="205.4" y1="328.296" x2="225.4" y2="328.296" stroke="#111" stroke-width="1.5" />
<line x1="215.4" y1="315.08" x2="215.4" y2="341.27599999999995" stroke="#111" stroke-width="1.5" />
<line x1="209.9" y1="315.08" x2="220.9" y2="315.08" stroke="#111" stroke-width="1.5" />
<line x1="209.9" y1="341.27599999999995" x2="220.9" y2="341.27599999999995" stroke="#111" stroke-width="1.5" />
<line x1="235.7" y1="353.548" x2="255.7" y2="353.548" stroke="#111" stroke-width="1.5" />
<line x1="245.7" y1="341.748" x2="245.7" y2="364.876" stroke="#111" stroke-width="1.5" />
<line x1="240.2" y1="341.748" x2="251.2" y2="341.748" stroke="#111" stroke-width="1.5" />
<line x1="240.2" y1="364.876" x2="251.2" y2="364.876" stroke="#111" stroke-width="1.5" />
<defs><linearGradient id="gHead" x1="1" y1="0" x2="0" y2="1"><stop offset="0" stop-color="#efe6e0"/><stop offset="0.6" stop-color="#efe7e2"/><stop offset="1" stop-color="#efe9e8" stop-opacity="0.7"/></linearGradient></defs>
<text x="258.2" y="244" font-size="9.6" fill="#000" text-anchor="start" font-weight="normal" >E</text>
<line x1="313.7" y1="302.2" x2="648.6" y2="302.2" stroke="#1a1a1a" stroke-width="2.0" />
<line x1="313.7" y1="294.2" x2="313.7" y2="303.1" stroke="#1a1a1a" stroke-width="2.0" />
<line x1="418.2" y1="293.4" x2="418.2" y2="303.1" stroke="#1a1a1a" stroke-width="2.0" />
<line x1="502.8" y1="291.2" x2="502.8" y2="303.1" stroke="#1a1a1a" stroke-width="2.0" />
<rect x="319.2" y="274.6" width="95.2" height="26.1" fill="#eaf0fb" stroke="#8eaadb" stroke-width="1.5" />
<rect x="421.4" y="272.8" width="79.1" height="27.9" fill="#eaf0fb" stroke="#8eaadb" stroke-width="1.5" />
<rect x="507.8" y="244.9" width="135.3" height="56.3" fill="#eaf0fb" stroke="#8eaadb" stroke-width="1.5" />
<line x1="313.7" y1="302.2" x2="648.6" y2="302.2" stroke="#1a1a1a" stroke-width="2.0" />
<text x="329" y="290.2" font-size="9.95" fill="#111" text-anchor="start" font-weight="normal" >Surgery recovery</text>
<text x="436.6" y="284.7" font-size="9.95" fill="#111" text-anchor="start" font-weight="normal" >GNG task</text>
<text x="436.6" y="295.8" font-size="9.95" fill="#111" text-anchor="start" font-weight="normal" >training</text>
<text x="527" y="265.6" font-size="9.98" fill="#111" text-anchor="start" font-weight="normal" >CNO/Saline</text>
<text x="527" y="277.5" font-size="10.0" fill="#d9342a" text-anchor="start" font-weight="normal" >Odor pair 1(CNO)</text>
<text x="527" y="289.2" font-size="10.0" fill="#111" text-anchor="start" font-weight="normal" >Odor pair 2 (Saline)</text>
<line x1="606.5" y1="273.5" x2="619" y2="273.5" stroke="#111" stroke-width="1.0" />
<path d="M622.6,273.5 L618,271.6 L618,275.4 Z" fill="#111"/>
<text x="276.9" y="315.6" font-size="9.97" fill="#111" text-anchor="start" font-weight="normal" >Viral injection</text>
<text x="349" y="315.6" font-size="9.96" fill="#111" text-anchor="start" font-weight="normal" >&gt;3weeks</text>
<text x="438.7" y="316" font-size="9.72" fill="#111" text-anchor="start" font-weight="normal" >1-2 weeks</text>
<text x="522.2" y="315.6" font-size="9.93" fill="#111" text-anchor="start" font-weight="normal" >1-3 days for each odor pair</text>
<rect x="470.4" y="320.2" width="213.6" height="125" fill="#ecf2fb" stroke="#98aed8" stroke-width="1.5" />
<text x="497.3" y="364.9" font-size="11.35"><tspan fill="#c8302a">CNO</tspan><tspan fill="#111">/Saline</tspan></text>
<text x="582.8" y="334.4" font-size="9.9" fill="#111" text-anchor="start" font-weight="normal" >S+ oodr(Go)</text>
<text x="582.8" y="345.6" font-size="9.9" fill="#111" text-anchor="start" font-weight="normal" >+Water</text>
<text x="584.6" y="398.3" font-size="9.95" fill="#111" text-anchor="start" font-weight="normal" >S- odor (NoGo)</text>
<path d="M491,401 C490.5,406 492,410 491.5,415 C491,419 492.5,423 493,426.5" fill="none" stroke="#e0aca4" stroke-width="1.0" stroke-linecap="round"/>
<path d="M484.5,378.5 L479,373.5 M497.5,378.5 L502.4,373.5 M484.5,398 L478.5,403 M497.5,398 L503,403" stroke="#e2aaa2" stroke-width="1.5" stroke-linecap="round" fill="none"/>
<path d="M491,366.2 C493,366.5 494.5,369 495.5,372 C497,374 498,376 498,378.5 C499,383 498.5,388 499,392 C499.5,396 497,399.5 491,400.5 C485,399.5 482.5,396 483,392 C483.5,388 483,383 484,378.5 C484,376 485,374 486.5,372 C487.5,369 489,366.5 491,366.2 Z" fill="#ede4dc" stroke="#d6c6bb" stroke-width="0.5"/>
<circle cx="486.2" cy="372.5" r="1.3" fill="#e6b2ac"/><circle cx="495.6" cy="372.5" r="1.3" fill="#e6b2ac"/>
<line x1="497.4" y1="386.4" x2="519.8" y2="370.5" stroke="#a0a4a8" stroke-width="0.7" />
<line x1="500.4" y1="384.4" x2="505.9" y2="380.9" stroke="#22c46e" stroke-width="1.9" />
<line x1="511" y1="388.2" x2="524" y2="388.2" stroke="#222" stroke-width="1.1" />
<path d="M527.4,388.2 L522.5,386 L522.5,390.4 Z" fill="#222"/>
<path d="M547.9,366.5 L570.4,376.1 L570.4,412.1 L547.9,402.5 Z" fill="#f6f9fd" stroke="#c9cdd3" stroke-width="0.6" opacity="0.9"/>
<path d="M549.9,367.5 L570.4,377.1 L570.4,411.1 M549.9,367.5 L549.9,402.5" fill="none" stroke="#d6dadf" stroke-width="0.5"/>
<g transform="translate(531,378.5) scale(1.011)">
<path d="M0.5,6 C2,2.5 6,0.5 11,1.5 C16,2.5 21,6 26.5,9.5 C27.6,10.3 27.2,11.6 26,11.8 C22,12.6 18,14 14,15.5 C10,17.5 6.5,20.5 3,21 C0.5,19 -0.5,13 0.5,6 Z" fill="url(#gHead)"/>
<ellipse cx="8" cy="2.6" rx="3" ry="1.8" fill="#e9ddd5" transform="rotate(-15 8 2.6)"/>
<ellipse cx="4.2" cy="7" rx="3.6" ry="4.1" fill="#e8b0ae"/>
<ellipse cx="16.5" cy="8.4" rx="1.45" ry="0.9" fill="#c0282a"/>
<circle cx="26.6" cy="10.6" r="0.9" fill="#eda3a3"/>
</g>
<path d="M561,386.8 q1.5,-1.2 3,0 t3,0 t3,0 M561,389 q1.5,-1.2 3,0 t3,0 t3,0 M561,391.2 q1.5,-1.2 3,0 t3,0 t3,0" fill="none" stroke="#777" stroke-width="0.6"/>
<ellipse cx="559" cy="388.5" rx="2.2" ry="3.2" fill="none" stroke="#bbb" stroke-width="0.6"/>
<path d="M573.9,371.6 C580,366 588,363 598.5,362.7" fill="none" stroke="#222" stroke-width="1.0"/>
<path d="M602,362.6 L597.3,360.4 L597.6,365 Z" fill="#222"/>
<path d="M575.3,407.2 C582,412.5 590,416.5 597,417.4" fill="none" stroke="#222" stroke-width="1.0"/>
<path d="M600.6,417.7 L596.2,415.3 L596,419.8 Z" fill="#222"/>
<path d="M625.2,334.2 L646.6,342.3 L646.6,378.8 L625.2,370.7 Z" fill="#f6f9fd" stroke="#c9cdd3" stroke-width="0.6" opacity="0.9"/>
<path d="M627.2,335.2 L646.6,343.3 L646.6,377.8 M627.2,335.2 L627.2,370.7" fill="none" stroke="#d6dadf" stroke-width="0.5"/>
<rect x="635" y="356.5" width="41.8" height="2.4" fill="#cfcfcf" stroke="none" stroke-width="1" />
<g transform="translate(606.5,346.7) scale(1.000)">
<path d="M0.5,6 C2,2.5 6,0.5 11,1.5 C16,2.5 21,6 26.5,9.5 C27.6,10.3 27.2,11.6 26,11.8 C22,12.6 18,14 14,15.5 C10,17.5 6.5,20.5 3,21 C0.5,19 -0.5,13 0.5,6 Z" fill="url(#gHead)"/>
<ellipse cx="8" cy="2.6" rx="3" ry="1.8" fill="#e9ddd5" transform="rotate(-15 8 2.6)"/>
<ellipse cx="4.2" cy="7" rx="3.6" ry="4.1" fill="#e8b0ae"/>
<ellipse cx="16.5" cy="8.4" rx="1.45" ry="0.9" fill="#c0282a"/>
<circle cx="26.6" cy="10.6" r="0.9" fill="#eda3a3"/>
</g>
<ellipse cx="635.5" cy="354" rx="2.3" ry="3" fill="none" stroke="#c9d4dc" stroke-width="0.6"/>
<ellipse cx="635.4" cy="361.5" rx="0.9" ry="1.4" fill="#8fc7ea"/>
<path d="M626.6,396.6 L648.3,403.7 L648.3,438.2 L626.6,431.1 Z" fill="#f6f9fd" stroke="#c9cdd3" stroke-width="0.6" opacity="0.9"/>
<path d="M628.6,397.6 L648.3,404.7 L648.3,437.2 M628.6,397.6 L628.6,431.1" fill="none" stroke="#d6dadf" stroke-width="0.5"/>
<rect x="636.8" y="416.2" width="42.2" height="2.4" fill="#cfcfcf" stroke="none" stroke-width="1" />
<ellipse cx="637" cy="417.4" rx="2.2" ry="3.2" fill="none" stroke="#cfd6dc" stroke-width="0.6"/>
<g transform="translate(606.5,409) scale(0.926)">
<path d="M0.5,6 C2,2.5 6,0.5 11,1.5 C16,2.5 21,6 26.5,9.5 C27.6,10.3 27.2,11.6 26,11.8 C22,12.6 18,14 14,15.5 C10,17.5 6.5,20.5 3,21 C0.5,19 -0.5,13 0.5,6 Z" fill="url(#gHead)"/>
<ellipse cx="8" cy="2.6" rx="3" ry="1.8" fill="#e9ddd5" transform="rotate(-15 8 2.6)"/>
<ellipse cx="4.2" cy="7" rx="3.6" ry="4.1" fill="#e8b0ae"/>
<ellipse cx="16.5" cy="8.4" rx="1.45" ry="0.9" fill="#c0282a"/>
<circle cx="26.6" cy="10.6" r="0.9" fill="#eda3a3"/>
</g>
<text x="0.6" y="482.9" font-size="9.8" fill="#000" text-anchor="start" font-weight="normal" >F</text>
<clipPath id="clipF"><rect x="39.5" y="499" width="218.8" height="174.6"/></clipPath>
<g clip-path="url(#clipF)">
<path d="M39.5,641.6 L40.0,640.7 L40.5,640.7 L41.0,639.4 L41.5,638.5 L42.0,637.7 L42.5,637.9 L43.0,638.0 L43.5,636.9 L44.0,636.5 L44.5,637.0 L45.0,636.9 L45.5,636.0 L46.0,635.6 L46.5,635.2 L47.0,634.9 L47.5,635.0 L48.0,634.6 L48.5,635.6 L49.0,635.3 L49.5,635.3 L50.0,635.4 L50.5,634.3 L51.0,633.2 L51.5,631.3 L52.0,629.5 L52.5,627.9 L53.0,625.8 L53.5,625.3 L54.0,625.2 L54.5,625.3 L55.0,624.8 L55.5,624.0 L56.0,623.2 L56.5,621.5 L57.0,620.7 L57.5,619.9 L58.0,619.7 L58.5,618.9 L59.0,618.8 L59.5,618.8 L60.0,619.2 L60.5,619.4 L61.0,619.1 L61.5,618.1 L62.0,618.4 L62.5,618.9 L63.0,618.6 L63.5,618.1 L64.0,618.0 L64.5,617.4 L65.0,617.9 L65.5,618.7 L66.0,618.4 L66.5,618.5 L67.0,618.7 L67.5,617.8 L68.0,618.5 L68.5,618.4 L69.0,617.6 L69.5,616.9 L70.0,616.8 L70.5,617.2 L71.0,617.6 L71.5,617.3 L72.0,618.0 L72.5,617.6 L73.0,617.4 L73.5,616.8 L74.0,617.8 L74.5,617.0 L75.0,617.7 L75.5,617.6 L76.0,617.5 L76.5,617.4 L77.0,616.9 L77.5,617.5 L78.0,618.1 L78.5,618.1 L79.0,617.7 L79.5,616.7 L80.0,617.2 L80.5,616.6 L81.0,617.2 L81.5,616.5 L82.0,616.6 L82.5,617.0 L83.0,616.2 L83.5,616.3 L84.0,615.6 L84.5,615.1 L85.0,615.0 L85.5,616.2 L86.0,616.8 L86.5,616.7 L87.0,616.0 L87.5,616.2 L88.0,616.4 L88.5,615.9 L89.0,616.0 L89.5,616.3 L90.0,615.2 L90.5,614.5 L91.0,614.3 L91.5,613.4 L92.0,613.2 L92.5,613.1 L93.0,612.3 L93.5,612.2 L94.0,611.5 L94.5,611.5 L95.0,610.9 L95.5,610.4 L96.0,608.8 L96.5,608.6 L97.0,607.2 L97.5,607.4 L98.0,606.6 L98.5,606.1 L99.0,605.7 L99.5,605.6 L100.0,605.6 L100.5,605.6 L101.0,605.5 L101.5,604.9 L102.0,605.3 L102.5,605.1 L103.0,605.0 L103.5,604.1 L104.0,603.5 L104.5,603.2 L105.0,603.5 L105.5,602.5 L106.0,601.7 L106.5,600.8 L107.0,600.7 L107.5,599.4 L108.0,598.0 L108.5,597.9 L109.0,597.9 L109.5,597.3 L110.0,596.5 L110.5,596.7 L111.0,596.0 L111.5,596.1 L112.0,595.3 L112.5,595.0 L113.0,595.2 L113.5,595.5 L114.0,595.5 L114.5,594.9 L115.0,595.6 L115.5,595.7 L116.0,595.4 L116.5,595.3 L117.0,595.3 L117.5,595.1 L118.0,594.7 L118.5,595.8 L119.0,596.6 L119.5,596.5 L120.0,596.8 L120.5,596.3 L121.0,596.6 L121.5,595.8 L122.0,596.2 L122.5,596.2 L123.0,596.7 L123.5,595.7 L124.0,596.2 L124.5,595.4 L125.0,595.6 L125.5,596.3 L126.0,595.2 L126.5,594.8 L127.0,594.7 L127.5,594.6 L128.0,594.1 L128.5,595.1 L129.0,595.5 L129.5,595.0 L130.0,594.6 L130.5,594.7 L131.0,593.9 L131.5,593.3 L132.0,594.3 L132.5,594.0 L133.0,594.0 L133.5,594.7 L134.0,595.1 L134.5,594.5 L135.0,593.7 L135.5,593.3 L136.0,594.0 L136.5,594.4 L137.0,593.5 L137.5,593.9 L138.0,593.3 L138.5,593.1 L139.0,592.5 L139.5,593.2 L140.0,593.8 L140.5,592.7 L141.0,592.7 L141.5,591.9 L142.0,592.4 L142.5,591.3 L143.0,590.7 L143.5,591.2 L144.0,590.8 L144.5,591.4 L145.0,591.6 L145.5,591.4 L146.0,590.3 L146.5,590.5 L147.0,590.9 L147.5,590.2 L148.0,589.2 L148.5,588.7 L149.0,588.5 L149.5,588.9 L150.0,588.3 L150.5,587.5 L151.0,587.0 L151.5,587.2 L152.0,587.3 L152.5,586.5 L153.0,586.3 L153.5,586.4 L154.0,585.8 L154.5,584.7 L155.0,583.9 L155.5,584.3 L156.0,583.9 L156.5,582.9 L157.0,582.7 L157.5,581.5 L158.0,582.1 L158.5,581.3 L159.0,580.9 L159.5,580.4 L160.0,579.2 L160.5,579.3 L161.0,578.7 L161.5,578.2 L162.0,578.7 L162.5,577.7 L163.0,577.3 L163.5,577.7 L164.0,577.0 L164.5,576.5 L165.0,576.5 L165.5,575.6 L166.0,576.0 L166.5,576.2 L167.0,574.6 L167.5,574.1 L168.0,574.1 L168.5,573.3 L169.0,573.5 L169.5,572.7 L170.0,571.5 L170.5,571.7 L171.0,572.0 L171.5,571.7 L172.0,572.0 L172.5,572.4 L173.0,572.2 L173.5,572.1 L174.0,572.6 L174.5,572.6 L175.0,572.4 L175.5,572.9 L176.0,572.0 L176.5,572.4 L177.0,571.7 L177.5,572.0 L178.0,571.6 L178.5,571.6 L179.0,572.2 L179.5,572.6 L180.0,572.8 L180.5,572.0 L181.0,571.8 L181.5,571.3 L182.0,571.5 L182.5,571.4 L183.0,570.6 L183.5,571.0 L184.0,571.4 L184.5,571.3 L185.0,571.7 L185.5,570.8 L186.0,570.2 L186.5,569.6 L187.0,569.9 L187.5,570.0 L188.0,570.0 L188.5,569.7 L189.0,570.3 L189.5,569.5 L190.0,570.3 L190.5,570.2 L191.0,570.0 L191.5,570.3 L192.0,569.5 L192.5,568.9 L193.0,568.7 L193.5,568.2 L194.0,568.2 L194.5,568.7 L195.0,568.8 L195.5,568.6 L196.0,569.0 L196.5,568.5 L197.0,569.5 L197.5,569.0 L198.0,568.9 L198.5,568.7 L199.0,569.5 L199.5,570.3 L200.0,570.7 L200.5,569.8 L201.0,569.9 L201.5,569.9 L202.0,569.7 L202.5,570.8 L203.0,570.1 L203.5,570.4 L204.0,571.0 L204.5,571.8 L205.0,571.0 L205.5,570.9 L206.0,571.3 L206.5,570.3 L207.0,570.1 L207.5,571.0 L208.0,570.3 L208.5,570.3 L209.0,570.1 L209.5,570.2 L210.0,569.6 L210.5,569.2 L211.0,570.5 L211.5,570.9 L212.0,571.1 L212.5,570.3 L213.0,569.9 L213.5,570.1 L214.0,569.8 L214.5,569.9 L215.0,570.7 L215.5,570.2 L216.0,569.9 L216.5,570.7 L217.0,570.6 L217.5,569.6 L218.0,569.6 L218.5,569.9 L219.0,569.2 L219.5,569.2 L220.0,569.7 L220.5,570.1 L221.0,569.8 L221.5,570.0 L222.0,569.4 L222.5,568.8 L223.0,569.0 L223.5,568.4 L224.0,568.5 L224.5,567.6 L225.0,567.2 L225.5,566.8 L226.0,567.2 L226.5,566.8 L227.0,566.6 L227.5,566.5 L228.0,566.8 L228.5,566.8 L229.0,567.0 L229.5,568.0 L230.0,568.1 L230.5,568.4 L231.0,567.6 L231.5,567.4 L232.0,566.7 L232.5,567.3 L233.0,567.2 L233.5,567.0 L234.0,566.4 L234.5,566.3 L235.0,566.4 L235.5,566.7 L236.0,567.7 L236.5,568.0 L237.0,567.4 L237.5,567.2 L238.0,566.8 L238.5,567.8 L239.0,567.4 L239.5,567.9 L240.0,568.1 L240.5,568.5 L241.0,567.3 L241.5,567.1 L242.0,567.1 L242.5,566.6 L243.0,567.6 L243.5,567.3 L244.0,567.8 L244.5,567.7 L245.0,566.9 L245.5,567.0 L246.0,566.8 L246.5,566.3 L247.0,566.2 L247.5,566.9 L248.0,566.4 L248.5,566.5 L249.0,566.8 L249.5,567.1 L250.0,566.7 L250.5,567.4 L251.0,567.0 L251.5,567.6 L252.0,567.8 L252.5,568.2 L253.0,569.1 L253.5,570.1 L254.0,571.9 L254.5,572.1 L255.0,572.4 L255.5,573.4 L256.0,573.2 L256.5,573.3 L257.0,573.6 L257.5,573.7 L258.0,573.6 L258.3,573.5 L258.3,622.3 L258.0,622.5 L257.5,622.4 L257.0,621.7 L256.5,622.1 L256.0,621.2 L255.5,621.5 L255.0,621.2 L254.5,621.7 L254.0,621.4 L253.5,621.8 L253.0,621.0 L252.5,615.5 L252.0,610.1 L251.5,610.4 L251.0,609.7 L250.5,609.8 L250.0,609.3 L249.5,609.7 L249.0,609.8 L248.5,610.2 L248.0,610.7 L247.5,610.6 L247.0,610.5 L246.5,609.5 L246.0,609.9 L245.5,610.2 L245.0,610.1 L244.5,609.0 L244.0,609.3 L243.5,609.8 L243.0,609.8 L242.5,609.2 L242.0,609.6 L241.5,610.2 L241.0,609.9 L240.5,609.5 L240.0,609.8 L239.5,609.3 L239.0,609.4 L238.5,609.4 L238.0,610.2 L237.5,610.4 L237.0,610.2 L236.5,611.0 L236.0,611.0 L235.5,610.5 L235.0,610.3 L234.5,611.0 L234.0,610.2 L233.5,611.3 L233.0,610.8 L232.5,610.7 L232.0,609.9 L231.5,609.9 L231.0,610.3 L230.5,611.2 L230.0,610.7 L229.5,609.7 L229.0,609.6 L228.5,610.0 L228.0,610.6 L227.5,610.9 L227.0,611.9 L226.5,611.9 L226.0,611.5 L225.5,611.8 L225.0,611.7 L224.5,611.3 L224.0,610.6 L223.5,611.0 L223.0,611.1 L222.5,610.5 L222.0,610.1 L221.5,610.8 L221.0,610.3 L220.5,610.6 L220.0,611.4 L219.5,610.8 L219.0,610.8 L218.5,611.1 L218.0,610.6 L217.5,611.2 L217.0,611.1 L216.5,610.5 L216.0,611.6 L215.5,611.1 L215.0,611.5 L214.5,611.4 L214.0,611.3 L213.5,610.7 L213.0,610.6 L212.5,610.0 L212.0,610.6 L211.5,610.8 L211.0,610.0 L210.5,610.9 L210.0,610.5 L209.5,611.0 L209.0,610.4 L208.5,610.0 L208.0,610.6 L207.5,610.4 L207.0,609.6 L206.5,609.5 L206.0,610.3 L205.5,609.7 L205.0,609.4 L204.5,609.2 L204.0,609.1 L203.5,608.5 L203.0,609.3 L202.5,609.2 L202.0,609.0 L201.5,608.5 L201.0,608.9 L200.5,609.0 L200.0,609.3 L199.5,609.0 L199.0,609.2 L198.5,609.0 L198.0,608.3 L197.5,609.0 L197.0,609.0 L196.5,609.2 L196.0,609.3 L195.5,609.0 L195.0,608.3 L194.5,608.1 L194.0,608.7 L193.5,608.5 L193.0,608.9 L192.5,608.7 L192.0,609.6 L191.5,608.8 L191.0,609.0 L190.5,609.7 L190.0,610.3 L189.5,609.7 L189.0,609.4 L188.5,609.7 L188.0,610.5 L187.5,610.2 L187.0,610.6 L186.5,611.5 L186.0,611.0 L185.5,611.5 L185.0,610.7 L184.5,611.6 L184.0,611.3 L183.5,612.0 L183.0,611.4 L182.5,612.2 L182.0,611.5 L181.5,611.4 L181.0,611.6 L180.5,611.6 L180.0,611.2 L179.5,612.1 L179.0,612.2 L178.5,612.3 L178.0,612.9 L177.5,613.8 L177.0,614.8 L176.5,614.8 L176.0,615.1 L175.5,614.9 L175.0,615.7 L174.5,615.3 L174.0,615.5 L173.5,616.4 L173.0,617.1 L172.5,616.6 L172.0,617.1 L171.5,617.7 L171.0,617.8 L170.5,618.4 L170.0,618.2 L169.5,618.0 L169.0,618.2 L168.5,618.4 L168.0,619.1 L167.5,619.1 L167.0,620.3 L166.5,619.9 L166.0,620.7 L165.5,620.8 L165.0,621.5 L164.5,621.3 L164.0,622.9 L163.5,623.0 L163.0,623.3 L162.5,623.5 L162.0,623.6 L161.5,624.5 L161.0,624.8 L160.5,624.8 L160.0,624.6 L159.5,624.7 L159.0,626.0 L158.5,625.3 L158.0,625.8 L157.5,626.8 L157.0,627.0 L156.5,627.6 L156.0,627.1 L155.5,627.2 L155.0,627.8 L154.5,628.4 L154.0,629.0 L153.5,630.1 L153.0,631.4 L152.5,631.8 L152.0,631.9 L151.5,632.9 L151.0,632.9 L150.5,632.9 L150.0,632.5 L149.5,633.1 L149.0,633.1 L148.5,632.9 L148.0,632.7 L147.5,633.6 L147.0,634.1 L146.5,633.8 L146.0,634.1 L145.5,634.5 L145.0,634.0 L144.5,634.7 L144.0,633.8 L143.5,633.6 L143.0,633.9 L142.5,634.5 L142.0,634.9 L141.5,633.9 L141.0,634.3 L140.5,634.9 L140.0,635.2 L139.5,635.4 L139.0,635.2 L138.5,635.6 L138.0,635.9 L137.5,635.5 L137.0,636.0 L136.5,635.5 L136.0,636.2 L135.5,636.3 L135.0,637.0 L134.5,637.0 L134.0,637.6 L133.5,636.7 L133.0,637.2 L132.5,637.8 L132.0,638.8 L131.5,638.7 L131.0,639.0 L130.5,639.0 L130.0,639.8 L129.5,639.1 L129.0,638.7 L128.5,638.4 L128.0,638.5 L127.5,639.1 L127.0,638.6 L126.5,637.8 L126.0,637.9 L125.5,637.9 L125.0,637.7 L124.5,637.2 L124.0,637.7 L123.5,637.8 L123.0,638.7 L122.5,637.8 L122.0,637.0 L121.5,636.9 L121.0,637.4 L120.5,638.1 L120.0,637.7 L119.5,638.9 L119.0,638.3 L118.5,637.6 L118.0,637.8 L117.5,637.6 L117.0,637.8 L116.5,637.4 L116.0,638.4 L115.5,637.7 L115.0,636.8 L114.5,636.1 L114.0,636.6 L113.5,636.9 L113.0,637.4 L112.5,637.0 L112.0,637.1 L111.5,638.1 L111.0,637.9 L110.5,637.5 L110.0,637.5 L109.5,638.0 L109.0,639.0 L108.5,640.0 L108.0,640.4 L107.5,640.6 L107.0,640.7 L106.5,641.6 L106.0,642.7 L105.5,642.9 L105.0,644.1 L104.5,644.0 L104.0,644.4 L103.5,644.0 L103.0,643.9 L102.5,644.4 L102.0,645.6 L101.5,645.3 L101.0,644.6 L100.5,645.3 L100.0,645.5 L99.5,645.2 L99.0,645.2 L98.5,645.9 L98.0,645.4 L97.5,645.8 L97.0,646.3 L96.5,647.0 L96.0,647.7 L95.5,647.7 L95.0,648.3 L94.5,648.6 L94.0,649.1 L93.5,649.8 L93.0,650.1 L92.5,649.8 L92.0,650.4 L91.5,650.9 L91.0,651.1 L90.5,651.5 L90.0,651.7 L89.5,652.6 L89.0,652.4 L88.5,651.9 L88.0,651.7 L87.5,651.4 L87.0,651.0 L86.5,651.5 L86.0,650.8 L85.5,651.1 L85.0,651.8 L84.5,651.2 L84.0,650.7 L83.5,650.6 L83.0,650.3 L82.5,650.1 L82.0,649.6 L81.5,649.3 L81.0,649.4 L80.5,649.2 L80.0,648.6 L79.5,649.1 L79.0,649.4 L78.5,648.7 L78.0,648.7 L77.5,649.0 L77.0,649.7 L76.5,648.6 L76.0,648.5 L75.5,648.6 L75.0,648.2 L74.5,648.6 L74.0,649.6 L73.5,649.1 L73.0,649.5 L72.5,649.0 L72.0,648.3 L71.5,648.6 L71.0,648.8 L70.5,649.2 L70.0,649.2 L69.5,649.4 L69.0,649.2 L68.5,648.6 L68.0,648.5 L67.5,648.9 L67.0,648.2 L66.5,647.8 L66.0,647.6 L65.5,648.1 L65.0,647.7 L64.5,648.3 L64.0,648.3 L63.5,647.4 L63.0,647.3 L62.5,648.0 L62.0,648.3 L61.5,648.6 L61.0,648.7 L60.5,648.4 L60.0,648.0 L59.5,648.6 L59.0,648.5 L58.5,649.1 L58.0,649.2 L57.5,649.7 L57.0,651.1 L56.5,651.4 L56.0,651.8 L55.5,651.9 L55.0,651.9 L54.5,652.7 L54.0,653.0 L53.5,653.4 L53.0,654.4 L52.5,655.1 L52.0,654.9 L51.5,655.7 L51.0,655.9 L50.5,656.1 L50.0,656.8 L49.5,657.3 L49.0,657.4 L48.5,657.7 L48.0,657.9 L47.5,658.8 L47.0,659.1 L46.5,659.4 L46.0,660.6 L45.5,660.8 L45.0,662.1 L44.5,662.5 L44.0,662.6 L43.5,663.1 L43.0,663.5 L42.5,665.0 L42.0,665.1 L41.5,665.6 L41.0,667.0 L40.5,667.1 L40.0,667.3 L39.5,667.9 Z" fill="#ff0000" opacity="0.2"/>
<path d="M39.5,616.3 L40.0,615.8 L40.5,615.8 L41.0,614.8 L41.5,614.1 L42.0,613.5 L42.5,612.2 L43.0,611.7 L43.5,611.4 L44.0,611.2 L44.5,609.7 L45.0,608.8 L45.5,607.6 L46.0,607.7 L46.5,607.3 L47.0,605.7 L47.5,605.9 L48.0,605.8 L48.5,604.9 L49.0,604.0 L49.5,602.4 L50.0,600.9 L50.5,600.5 L51.0,599.3 L51.5,598.4 L52.0,597.7 L52.5,596.6 L53.0,596.3 L53.5,595.8 L54.0,595.9 L54.5,595.1 L55.0,594.5 L55.5,593.4 L56.0,592.6 L56.5,591.4 L57.0,589.9 L57.5,589.8 L58.0,589.4 L58.5,588.5 L59.0,587.3 L59.5,585.6 L60.0,584.0 L60.5,582.7 L61.0,581.2 L61.5,581.8 L62.0,581.4 L62.5,581.8 L63.0,581.1 L63.5,581.6 L64.0,581.5 L64.5,580.0 L65.0,579.4 L65.5,580.0 L66.0,579.5 L66.5,579.9 L67.0,579.1 L67.5,578.0 L68.0,578.2 L68.5,578.3 L69.0,577.5 L69.5,576.6 L70.0,576.4 L70.5,577.1 L71.0,577.0 L71.5,575.8 L72.0,575.2 L72.5,574.4 L73.0,573.8 L73.5,574.4 L74.0,573.7 L74.5,573.7 L75.0,573.4 L75.5,572.7 L76.0,573.0 L76.5,572.1 L77.0,572.2 L77.5,571.3 L78.0,571.1 L78.5,570.5 L79.0,570.1 L79.5,570.9 L80.0,570.9 L80.5,570.1 L81.0,570.4 L81.5,569.5 L82.0,569.0 L82.5,569.4 L83.0,569.2 L83.5,568.1 L84.0,568.8 L84.5,567.8 L85.0,567.2 L85.5,567.6 L86.0,567.0 L86.5,566.5 L87.0,565.7 L87.5,565.2 L88.0,565.5 L88.5,565.1 L89.0,565.3 L89.5,565.0 L90.0,564.8 L90.5,565.4 L91.0,564.9 L91.5,564.6 L92.0,564.8 L92.5,563.8 L93.0,563.0 L93.5,563.6 L94.0,563.8 L94.5,562.8 L95.0,562.1 L95.5,562.4 L96.0,562.8 L96.5,561.8 L97.0,562.2 L97.5,562.3 L98.0,561.8 L98.5,561.1 L99.0,560.1 L99.5,559.3 L100.0,560.1 L100.5,559.0 L101.0,558.7 L101.5,557.6 L102.0,557.5 L102.5,556.8 L103.0,555.7 L103.5,554.5 L104.0,554.4 L104.5,553.0 L105.0,552.1 L105.5,551.8 L106.0,551.9 L106.5,551.2 L107.0,550.0 L107.5,550.0 L108.0,548.6 L108.5,547.2 L109.0,546.4 L109.5,546.0 L110.0,544.8 L110.5,544.6 L111.0,544.8 L111.5,545.2 L112.0,544.7 L112.5,544.7 L113.0,545.5 L113.5,546.1 L114.0,545.9 L114.5,545.8 L115.0,545.5 L115.5,544.6 L116.0,543.8 L116.5,543.3 L117.0,544.4 L117.5,544.6 L118.0,545.2 L118.5,544.0 L119.0,544.2 L119.5,544.0 L120.0,544.3 L120.5,543.5 L121.0,544.1 L121.5,542.8 L122.0,542.6 L122.5,542.7 L123.0,542.9 L123.5,542.7 L124.0,542.4 L124.5,542.2 L125.0,542.2 L125.5,541.1 L126.0,540.9 L126.5,541.0 L127.0,540.9 L127.5,540.0 L128.0,539.9 L128.5,539.9 L129.0,539.3 L129.5,538.9 L130.0,538.1 L130.5,538.0 L131.0,537.9 L131.5,537.0 L132.0,537.2 L132.5,537.9 L133.0,538.1 L133.5,537.9 L134.0,537.1 L134.5,537.2 L135.0,536.9 L135.5,536.5 L136.0,536.8 L136.5,535.7 L137.0,536.0 L137.5,535.0 L138.0,535.3 L138.5,535.2 L139.0,534.7 L139.5,535.1 L140.0,534.9 L140.5,534.9 L141.0,535.3 L141.5,534.4 L142.0,533.4 L142.5,533.1 L143.0,533.5 L143.5,532.9 L144.0,532.4 L144.5,533.2 L145.0,533.2 L145.5,532.8 L146.0,533.2 L146.5,532.4 L147.0,532.4 L147.5,531.6 L148.0,531.4 L148.5,531.8 L149.0,532.2 L149.5,532.2 L150.0,531.4 L150.5,531.0 L151.0,530.3 L151.5,529.4 L152.0,529.4 L152.5,529.7 L153.0,529.9 L153.5,529.6 L154.0,529.7 L154.5,528.6 L155.0,527.6 L155.5,527.4 L156.0,526.8 L156.5,526.3 L157.0,526.2 L157.5,526.3 L158.0,526.1 L158.5,525.5 L159.0,525.9 L159.5,526.3 L160.0,525.5 L160.5,524.6 L161.0,523.9 L161.5,524.9 L162.0,524.1 L162.5,524.6 L163.0,524.8 L163.5,524.4 L164.0,524.9 L164.5,524.0 L165.0,523.6 L165.5,523.8 L166.0,523.3 L166.5,524.2 L167.0,523.8 L167.5,523.4 L168.0,522.9 L168.5,523.6 L169.0,523.7 L169.5,524.0 L170.0,524.2 L170.5,524.5 L171.0,524.9 L171.5,524.6 L172.0,523.6 L172.5,523.4 L173.0,522.7 L173.5,522.0 L174.0,522.3 L174.5,522.8 L175.0,522.2 L175.5,521.9 L176.0,521.8 L176.5,522.3 L177.0,522.2 L177.5,522.3 L178.0,522.5 L178.5,522.1 L179.0,522.5 L179.5,522.9 L180.0,521.8 L180.5,522.4 L181.0,522.5 L181.5,521.6 L182.0,521.5 L182.5,521.7 L183.0,522.3 L183.5,521.8 L184.0,521.8 L184.5,522.2 L185.0,522.3 L185.5,522.6 L186.0,522.0 L186.5,522.0 L187.0,521.2 L187.5,521.5 L188.0,521.9 L188.5,521.8 L189.0,521.8 L189.5,521.0 L190.0,521.6 L190.5,522.1 L191.0,522.4 L191.5,521.9 L192.0,521.9 L192.5,521.2 L193.0,521.7 L193.5,521.9 L194.0,521.2 L194.5,520.4 L195.0,520.4 L195.5,520.6 L196.0,521.1 L196.5,520.9 L197.0,520.0 L197.5,520.7 L198.0,520.0 L198.5,520.7 L199.0,520.1 L199.5,520.0 L200.0,520.6 L200.5,520.0 L201.0,519.6 L201.5,519.9 L202.0,520.5 L202.5,521.0 L203.0,521.0 L203.5,521.4 L204.0,521.0 L204.5,521.4 L205.0,520.3 L205.5,519.8 L206.0,520.0 L206.5,519.7 L207.0,520.2 L207.5,520.4 L208.0,520.3 L208.5,520.7 L209.0,520.5 L209.5,520.0 L210.0,519.8 L210.5,520.4 L211.0,520.9 L211.5,520.0 L212.0,520.5 L212.5,521.0 L213.0,520.6 L213.5,520.4 L214.0,519.6 L214.5,519.7 L215.0,519.7 L215.5,519.9 L216.0,519.0 L216.5,520.0 L217.0,519.9 L217.5,519.6 L218.0,520.1 L218.5,520.0 L219.0,519.8 L219.5,520.0 L220.0,519.1 L220.5,519.3 L221.0,519.2 L221.5,520.0 L222.0,520.4 L222.5,519.6 L223.0,519.5 L223.5,518.8 L224.0,518.9 L224.5,519.5 L225.0,520.0 L225.5,519.7 L226.0,519.2 L226.5,518.7 L227.0,519.0 L227.5,519.7 L228.0,518.9 L228.5,519.4 L229.0,518.5 L229.5,518.2 L230.0,518.1 L230.5,518.8 L231.0,518.7 L231.5,518.7 L232.0,519.2 L232.5,518.6 L233.0,519.4 L233.5,518.8 L234.0,519.2 L234.5,519.0 L235.0,518.8 L235.5,519.3 L236.0,519.4 L236.5,519.4 L237.0,519.5 L237.5,519.8 L238.0,519.4 L238.5,519.3 L239.0,519.9 L239.5,520.3 L240.0,520.4 L240.5,521.0 L241.0,521.0 L241.5,521.4 L242.0,520.7 L242.5,521.1 L243.0,521.5 L243.5,521.9 L244.0,521.2 L244.5,520.9 L245.0,521.6 L245.5,520.9 L246.0,521.7 L246.5,522.0 L247.0,520.9 L247.5,520.4 L248.0,520.9 L248.5,520.4 L249.0,519.9 L249.5,520.7 L250.0,520.5 L250.5,521.0 L251.0,520.2 L251.5,520.1 L252.0,520.5 L252.5,519.7 L253.0,519.5 L253.5,520.1 L254.0,520.8 L254.5,521.3 L255.0,520.3 L255.5,520.2 L256.0,520.6 L256.5,520.4 L257.0,520.6 L257.5,519.8 L258.0,519.2 L258.3,518.9 L258.3,578.4 L258.0,578.5 L257.5,577.7 L257.0,577.9 L256.5,577.3 L256.0,577.6 L255.5,578.0 L255.0,577.5 L254.5,577.5 L254.0,577.6 L253.5,577.1 L253.0,576.1 L252.5,575.5 L252.0,575.1 L251.5,574.9 L251.0,575.6 L250.5,575.3 L250.0,574.1 L249.5,574.9 L249.0,574.9 L248.5,574.6 L248.0,575.1 L247.5,574.6 L247.0,574.7 L246.5,575.8 L246.0,575.8 L245.5,575.5 L245.0,574.6 L244.5,574.5 L244.0,574.5 L243.5,575.2 L243.0,574.8 L242.5,575.0 L242.0,574.4 L241.5,574.1 L241.0,574.1 L240.5,574.6 L240.0,574.8 L239.5,576.0 L239.0,576.1 L238.5,577.5 L238.0,578.3 L237.5,578.9 L237.0,580.4 L236.5,578.6 L236.0,578.3 L235.5,576.5 L235.0,575.6 L234.5,575.2 L234.0,575.9 L233.5,575.5 L233.0,575.6 L232.5,574.7 L232.0,574.6 L231.5,574.4 L231.0,575.1 L230.5,574.5 L230.0,574.9 L229.5,575.9 L229.0,575.6 L228.5,575.1 L228.0,574.3 L227.5,575.2 L227.0,574.5 L226.5,575.2 L226.0,575.2 L225.5,576.0 L225.0,575.3 L224.5,574.3 L224.0,573.5 L223.5,571.8 L223.0,571.0 L222.5,570.2 L222.0,569.9 L221.5,569.8 L221.0,569.0 L220.5,567.9 L220.0,566.4 L219.5,566.1 L219.0,565.5 L218.5,566.0 L218.0,566.4 L217.5,566.1 L217.0,564.9 L216.5,565.0 L216.0,564.7 L215.5,564.5 L215.0,564.6 L214.5,564.5 L214.0,563.7 L213.5,564.6 L213.0,565.4 L212.5,566.1 L212.0,565.7 L211.5,565.9 L211.0,566.8 L210.5,566.6 L210.0,566.1 L209.5,566.8 L209.0,567.2 L208.5,566.9 L208.0,566.8 L207.5,567.3 L207.0,566.7 L206.5,567.1 L206.0,567.4 L205.5,568.0 L205.0,568.6 L204.5,568.6 L204.0,568.1 L203.5,568.3 L203.0,568.6 L202.5,568.9 L202.0,569.6 L201.5,570.8 L201.0,570.3 L200.5,570.1 L200.0,570.1 L199.5,570.4 L199.0,570.8 L198.5,569.9 L198.0,569.1 L197.5,569.2 L197.0,569.1 L196.5,569.7 L196.0,568.4 L195.5,568.3 L195.0,567.9 L194.5,568.3 L194.0,569.1 L193.5,569.7 L193.0,569.1 L192.5,568.6 L192.0,569.3 L191.5,569.7 L191.0,570.3 L190.5,570.2 L190.0,570.3 L189.5,570.8 L189.0,571.3 L188.5,571.2 L188.0,571.1 L187.5,571.2 L187.0,571.2 L186.5,571.0 L186.0,571.2 L185.5,570.9 L185.0,571.6 L184.5,571.3 L184.0,571.3 L183.5,571.1 L183.0,571.3 L182.5,571.7 L182.0,571.7 L181.5,571.0 L181.0,571.4 L180.5,571.9 L180.0,571.6 L179.5,570.4 L179.0,568.6 L178.5,567.8 L178.0,567.2 L177.5,567.1 L177.0,566.6 L176.5,567.4 L176.0,567.2 L175.5,568.2 L175.0,567.6 L174.5,567.0 L174.0,567.7 L173.5,568.7 L173.0,568.4 L172.5,568.4 L172.0,569.6 L171.5,569.5 L171.0,569.8 L170.5,569.2 L170.0,569.1 L169.5,569.1 L169.0,568.9 L168.5,569.9 L168.0,570.7 L167.5,570.1 L167.0,569.4 L166.5,570.0 L166.0,570.1 L165.5,569.5 L165.0,569.4 L164.5,568.7 L164.0,568.2 L163.5,568.4 L163.0,568.2 L162.5,568.1 L162.0,568.1 L161.5,568.2 L161.0,568.3 L160.5,569.0 L160.0,568.4 L159.5,567.8 L159.0,568.1 L158.5,568.7 L158.0,569.6 L157.5,569.6 L157.0,570.4 L156.5,570.4 L156.0,570.2 L155.5,569.7 L155.0,569.8 L154.5,569.2 L154.0,569.9 L153.5,570.2 L153.0,569.6 L152.5,569.7 L152.0,570.3 L151.5,570.8 L151.0,570.5 L150.5,570.0 L150.0,570.1 L149.5,570.7 L149.0,570.3 L148.5,570.6 L148.0,571.5 L147.5,571.1 L147.0,571.5 L146.5,571.2 L146.0,571.1 L145.5,570.7 L145.0,571.3 L144.5,572.2 L144.0,571.5 L143.5,572.3 L143.0,572.9 L142.5,573.5 L142.0,573.2 L141.5,573.1 L141.0,573.3 L140.5,574.0 L140.0,573.5 L139.5,573.4 L139.0,573.8 L138.5,573.2 L138.0,573.7 L137.5,573.9 L137.0,574.8 L136.5,574.6 L136.0,574.5 L135.5,573.8 L135.0,574.5 L134.5,575.5 L134.0,575.0 L133.5,574.5 L133.0,574.7 L132.5,575.2 L132.0,575.3 L131.5,575.6 L131.0,575.4 L130.5,575.3 L130.0,574.6 L129.5,575.0 L129.0,575.6 L128.5,575.4 L128.0,576.0 L127.5,575.7 L127.0,575.6 L126.5,575.8 L126.0,576.6 L125.5,577.9 L125.0,577.8 L124.5,577.2 L124.0,576.2 L123.5,576.5 L123.0,577.2 L122.5,576.9 L122.0,576.7 L121.5,576.6 L121.0,576.4 L120.5,576.0 L120.0,576.3 L119.5,576.7 L119.0,576.7 L118.5,576.4 L118.0,575.5 L117.5,576.2 L117.0,577.0 L116.5,577.1 L116.0,576.7 L115.5,575.9 L115.0,575.9 L114.5,575.3 L114.0,575.3 L113.5,575.0 L113.0,575.2 L112.5,575.2 L112.0,574.6 L111.5,574.2 L111.0,574.6 L110.5,574.1 L110.0,574.5 L109.5,575.7 L109.0,576.5 L108.5,576.9 L108.0,578.5 L107.5,579.4 L107.0,580.0 L106.5,580.1 L106.0,581.1 L105.5,581.7 L105.0,581.7 L104.5,582.3 L104.0,583.7 L103.5,583.7 L103.0,584.5 L102.5,585.5 L102.0,585.5 L101.5,587.3 L101.0,587.5 L100.5,587.2 L100.0,588.8 L99.5,589.0 L99.0,588.6 L98.5,589.0 L98.0,588.4 L97.5,588.8 L97.0,589.6 L96.5,590.0 L96.0,591.1 L95.5,591.8 L95.0,591.8 L94.5,592.5 L94.0,592.8 L93.5,592.8 L93.0,593.5 L92.5,594.2 L92.0,594.4 L91.5,594.8 L91.0,595.4 L90.5,594.8 L90.0,595.8 L89.5,595.8 L89.0,595.7 L88.5,596.4 L88.0,596.6 L87.5,597.6 L87.0,597.0 L86.5,598.2 L86.0,598.1 L85.5,598.1 L85.0,599.5 L84.5,599.6 L84.0,600.1 L83.5,599.8 L83.0,600.3 L82.5,599.8 L82.0,600.1 L81.5,600.2 L81.0,599.4 L80.5,599.6 L80.0,600.2 L79.5,600.2 L79.0,600.6 L78.5,601.4 L78.0,601.8 L77.5,602.6 L77.0,602.5 L76.5,602.5 L76.0,604.0 L75.5,603.8 L75.0,603.9 L74.5,604.1 L74.0,604.4 L73.5,603.8 L73.0,604.2 L72.5,604.5 L72.0,604.7 L71.5,604.7 L71.0,605.4 L70.5,605.6 L70.0,604.9 L69.5,605.6 L69.0,605.6 L68.5,605.4 L68.0,605.5 L67.5,606.5 L67.0,606.7 L66.5,607.1 L66.0,608.3 L65.5,608.5 L65.0,609.3 L64.5,609.6 L64.0,609.9 L63.5,610.4 L63.0,610.4 L62.5,610.3 L62.0,611.2 L61.5,611.4 L61.0,611.6 L60.5,611.8 L60.0,611.5 L59.5,613.0 L59.0,613.6 L58.5,613.6 L58.0,614.4 L57.5,615.0 L57.0,616.2 L56.5,617.0 L56.0,617.4 L55.5,617.9 L55.0,618.1 L54.5,618.4 L54.0,620.4 L53.5,621.4 L53.0,623.1 L52.5,625.0 L52.0,626.6 L51.5,627.5 L51.0,628.8 L50.5,630.9 L50.0,631.7 L49.5,631.6 L49.0,633.0 L48.5,633.4 L48.0,634.1 L47.5,634.6 L47.0,635.3 L46.5,636.3 L46.0,636.5 L45.5,637.3 L45.0,636.8 L44.5,638.1 L44.0,639.8 L43.5,640.0 L43.0,639.8 L42.5,639.4 L42.0,640.1 L41.5,640.9 L41.0,642.1 L40.5,642.5 L40.0,642.9 L39.5,643.1 Z" fill="#f800f8" opacity="0.12"/>
<path d="M39.5,634.0 L40.0,632.9 L40.5,632.5 L41.0,631.8 L41.5,631.0 L42.0,629.8 L42.5,629.4 L43.0,628.7 L43.5,628.2 L44.0,628.1 L44.5,627.0 L45.0,626.6 L45.5,625.9 L46.0,624.7 L46.5,624.0 L47.0,623.0 L47.5,622.9 L48.0,621.8 L48.5,621.1 L49.0,620.2 L49.5,620.0 L50.0,619.5 L50.5,618.2 L51.0,616.9 L51.5,615.2 L52.0,614.8 L52.5,613.0 L53.0,611.9 L53.5,610.7 L54.0,609.3 L54.5,607.7 L55.0,605.6 L55.5,605.0 L56.0,604.3 L56.5,602.5 L57.0,601.8 L57.5,600.9 L58.0,599.8 L58.5,598.9 L59.0,597.9 L59.5,597.3 L60.0,596.4 L60.5,596.3 L61.0,596.3 L61.5,596.1 L62.0,595.2 L62.5,595.2 L63.0,594.8 L63.5,594.6 L64.0,594.7 L64.5,593.5 L65.0,593.4 L65.5,593.1 L66.0,592.9 L66.5,592.0 L67.0,592.3 L67.5,591.3 L68.0,590.7 L68.5,590.0 L69.0,589.7 L69.5,589.7 L70.0,588.7 L70.5,588.2 L71.0,588.2 L71.5,587.9 L72.0,587.6 L72.5,586.7 L73.0,586.7 L73.5,586.3 L74.0,586.0 L74.5,585.1 L75.0,584.9 L75.5,584.2 L76.0,584.7 L76.5,584.9 L77.0,584.7 L77.5,583.6 L78.0,583.3 L78.5,583.3 L79.0,583.1 L79.5,582.4 L80.0,582.7 L80.5,582.2 L81.0,582.0 L81.5,581.4 L82.0,581.5 L82.5,580.9 L83.0,580.5 L83.5,580.6 L84.0,580.3 L84.5,580.5 L85.0,579.9 L85.5,579.7 L86.0,579.1 L86.5,578.8 L87.0,578.9 L87.5,578.8 L88.0,578.6 L88.5,578.8 L89.0,577.9 L89.5,578.1 L90.0,577.2 L90.5,577.6 L91.0,577.0 L91.5,576.5 L92.0,576.3 L92.5,576.2 L93.0,576.1 L93.5,575.3 L94.0,574.3 L94.5,573.8 L95.0,573.8 L95.5,573.4 L96.0,572.8 L96.5,571.5 L97.0,571.0 L97.5,570.7 L98.0,570.8 L98.5,571.2 L99.0,572.1 L99.5,572.3 L100.0,571.9 L100.5,570.6 L101.0,570.1 L101.5,569.2 L102.0,568.7 L102.5,568.0 L103.0,568.3 L103.5,567.4 L104.0,566.9 L104.5,566.6 L105.0,566.3 L105.5,566.0 L106.0,565.1 L106.5,564.4 L107.0,564.4 L107.5,563.7 L108.0,563.0 L108.5,563.1 L109.0,562.4 L109.5,562.0 L110.0,561.7 L110.5,561.5 L111.0,561.0 L111.5,560.7 L112.0,560.7 L112.5,560.1 L113.0,560.7 L113.5,560.0 L114.0,560.2 L114.5,560.2 L115.0,560.0 L115.5,559.6 L116.0,559.3 L116.5,559.4 L117.0,559.3 L117.5,559.3 L118.0,559.0 L118.5,559.4 L119.0,559.2 L119.5,558.5 L120.0,558.6 L120.5,559.3 L121.0,558.6 L121.5,559.0 L122.0,559.6 L122.5,559.2 L123.0,559.3 L123.5,559.2 L124.0,559.0 L124.5,559.4 L125.0,559.5 L125.5,559.3 L126.0,559.4 L126.5,559.5 L127.0,559.9 L127.5,559.3 L128.0,559.1 L128.5,559.2 L129.0,559.3 L129.5,560.0 L130.0,559.9 L130.5,560.0 L131.0,559.4 L131.5,558.9 L132.0,559.0 L132.5,558.2 L133.0,558.8 L133.5,558.7 L134.0,557.9 L134.5,557.3 L135.0,557.4 L135.5,557.1 L136.0,556.6 L136.5,555.5 L137.0,555.6 L137.5,555.0 L138.0,555.3 L138.5,555.4 L139.0,555.7 L139.5,555.5 L140.0,554.8 L140.5,555.4 L141.0,555.4 L141.5,555.2 L142.0,554.5 L142.5,555.0 L143.0,555.0 L143.5,555.3 L144.0,555.7 L144.5,555.9 L145.0,555.1 L145.5,555.6 L146.0,555.4 L146.5,555.7 L147.0,555.5 L147.5,555.0 L148.0,554.5 L148.5,553.7 L149.0,553.4 L149.5,553.4 L150.0,552.5 L150.5,552.2 L151.0,552.9 L151.5,552.9 L152.0,552.8 L152.5,552.2 L153.0,551.9 L153.5,552.0 L154.0,552.7 L154.5,552.5 L155.0,552.7 L155.5,552.0 L156.0,551.9 L156.5,552.0 L157.0,552.3 L157.5,551.0 L158.0,551.0 L158.5,550.1 L159.0,548.9 L159.5,548.5 L160.0,547.9 L160.5,547.6 L161.0,547.4 L161.5,547.0 L162.0,546.9 L162.5,546.5 L163.0,546.7 L163.5,546.0 L164.0,546.3 L164.5,545.7 L165.0,545.9 L165.5,545.7 L166.0,545.9 L166.5,545.8 L167.0,546.1 L167.5,546.6 L168.0,546.7 L168.5,546.8 L169.0,547.1 L169.5,547.5 L170.0,547.3 L170.5,547.4 L171.0,547.2 L171.5,547.7 L172.0,547.2 L172.5,547.3 L173.0,546.9 L173.5,546.7 L174.0,547.1 L174.5,547.1 L175.0,546.7 L175.5,545.8 L176.0,546.0 L176.5,545.3 L177.0,545.1 L177.5,544.4 L178.0,544.0 L178.5,545.2 L179.0,546.9 L179.5,548.3 L180.0,549.0 L180.5,548.8 L181.0,548.4 L181.5,548.7 L182.0,548.1 L182.5,548.1 L183.0,548.6 L183.5,547.9 L184.0,548.3 L184.5,548.1 L185.0,547.9 L185.5,547.5 L186.0,547.0 L186.5,547.5 L187.0,547.5 L187.5,547.3 L188.0,546.4 L188.5,546.7 L189.0,546.0 L189.5,545.6 L190.0,545.7 L190.5,545.7 L191.0,545.1 L191.5,545.4 L192.0,545.2 L192.5,545.4 L193.0,545.4 L193.5,545.9 L194.0,546.1 L194.5,547.3 L195.0,547.9 L195.5,548.1 L196.0,549.2 L196.5,549.3 L197.0,548.9 L197.5,548.8 L198.0,548.6 L198.5,549.2 L199.0,549.2 L199.5,549.3 L200.0,549.3 L200.5,549.3 L201.0,549.8 L201.5,549.4 L202.0,549.1 L202.5,548.9 L203.0,548.9 L203.5,549.1 L204.0,548.3 L204.5,548.6 L205.0,548.5 L205.5,548.1 L206.0,547.7 L206.5,547.6 L207.0,547.2 L207.5,547.0 L208.0,547.0 L208.5,546.7 L209.0,545.8 L209.5,545.0 L210.0,545.5 L210.5,544.9 L211.0,545.0 L211.5,544.2 L212.0,544.0 L212.5,543.6 L213.0,543.7 L213.5,543.8 L214.0,543.2 L214.5,542.8 L215.0,542.3 L215.5,541.7 L216.0,542.2 L216.5,541.9 L217.0,543.0 L217.5,543.4 L218.0,543.2 L218.5,544.3 L219.0,544.1 L219.5,544.8 L220.0,544.8 L220.5,546.1 L221.0,546.1 L221.5,546.9 L222.0,546.7 L222.5,547.6 L223.0,547.7 L223.5,548.1 L224.0,549.1 L224.5,550.4 L225.0,550.9 L225.5,551.7 L226.0,552.2 L226.5,551.9 L227.0,551.3 L227.5,551.6 L228.0,551.3 L228.5,551.6 L229.0,551.5 L229.5,551.6 L230.0,551.3 L230.5,552.1 L231.0,552.2 L231.5,552.5 L232.0,552.4 L232.5,552.9 L233.0,553.4 L233.5,554.2 L234.0,554.3 L234.5,553.8 L235.0,553.9 L235.5,554.0 L236.0,554.5 L236.5,555.0 L237.0,555.3 L237.5,554.4 L238.0,553.5 L238.5,552.5 L239.0,551.6 L239.5,549.6 L240.0,548.8 L240.5,548.0 L241.0,547.2 L241.5,547.6 L242.0,548.0 L242.5,548.7 L243.0,548.3 L243.5,548.8 L244.0,549.8 L244.5,548.9 L245.0,548.6 L245.5,549.2 L246.0,549.5 L246.5,548.6 L247.0,548.2 L247.5,548.8 L248.0,548.9 L248.5,548.7 L249.0,548.6 L249.5,548.7 L250.0,548.8 L250.5,547.8 L251.0,547.5 L251.5,548.1 L252.0,548.5 L252.5,548.4 L253.0,547.9 L253.5,547.6 L254.0,547.4 L254.5,545.2 L255.0,544.0 L255.5,543.7 L256.0,543.8 L256.5,543.8 L257.0,543.5 L257.5,543.7 L258.0,543.5 L258.3,543.2" fill="none" stroke="#f070ee" stroke-width="0.9" stroke-linejoin="round"/>
<path d="M39.5,655.4 L40.0,653.5 L40.5,651.9 L41.0,650.7 L41.5,649.8 L42.0,649.2 L42.5,648.7 L43.0,648.3 L43.5,648.7 L44.0,648.2 L44.5,648.4 L45.0,648.0 L45.5,648.6 L46.0,647.9 L46.5,647.6 L47.0,647.5 L47.5,647.4 L48.0,647.9 L48.5,647.9 L49.0,648.0 L49.5,647.6 L50.0,646.7 L50.5,647.9 L51.0,648.0 L51.5,648.4 L52.0,646.9 L52.5,646.0 L53.0,643.8 L53.5,641.8 L54.0,640.8 L54.5,640.9 L55.0,639.9 L55.5,638.9 L56.0,639.3 L56.5,639.2 L57.0,638.4 L57.5,638.5 L58.0,637.8 L58.5,636.6 L59.0,636.1 L59.5,635.6 L60.0,634.5 L60.5,634.0 L61.0,632.9 L61.5,633.1 L62.0,633.0 L62.5,632.4 L63.0,633.3 L63.5,632.5 L64.0,632.2 L64.5,633.0 L65.0,633.4 L65.5,633.8 L66.0,633.3 L66.5,634.2 L67.0,633.6 L67.5,634.3 L68.0,635.1 L68.5,634.3 L69.0,633.8 L69.5,634.4 L70.0,634.9 L70.5,634.9 L71.0,635.2 L71.5,634.7 L72.0,634.3 L72.5,633.8 L73.0,633.9 L73.5,634.8 L74.0,634.0 L74.5,633.8 L75.0,633.9 L75.5,633.5 L76.0,633.6 L76.5,633.4 L77.0,633.2 L77.5,633.7 L78.0,633.8 L78.5,633.8 L79.0,634.1 L79.5,633.8 L80.0,634.2 L80.5,633.1 L81.0,632.8 L81.5,632.4 L82.0,632.6 L82.5,633.2 L83.0,633.6 L83.5,633.1 L84.0,632.4 L84.5,632.3 L85.0,632.5 L85.5,632.5 L86.0,633.2 L86.5,633.9 L87.0,633.6 L87.5,633.7 L88.0,634.3 L88.5,634.0 L89.0,633.7 L89.5,634.7 L90.0,635.3 L90.5,633.8 L91.0,634.0 L91.5,633.4 L92.0,632.5 L92.5,632.0 L93.0,631.7 L93.5,632.2 L94.0,631.4 L94.5,630.1 L95.0,629.4 L95.5,629.4 L96.0,628.5 L96.5,627.8 L97.0,626.7 L97.5,626.2 L98.0,625.6 L98.5,625.7 L99.0,625.4 L99.5,625.4 L100.0,625.9 L100.5,625.7 L101.0,625.7 L101.5,626.1 L102.0,626.0 L102.5,626.2 L103.0,627.1 L103.5,626.3 L104.0,625.3 L104.5,624.6 L105.0,623.8 L105.5,622.9 L106.0,622.9 L106.5,621.1 L107.0,620.8 L107.5,619.9 L108.0,618.9 L108.5,617.5 L109.0,617.2 L109.5,617.5 L110.0,616.4 L110.5,615.5 L111.0,615.7 L111.5,614.8 L112.0,614.7 L112.5,614.4 L113.0,615.5 L113.5,615.1 L114.0,614.8 L114.5,615.5 L115.0,615.5 L115.5,615.9 L116.0,616.1 L116.5,616.9 L117.0,616.8 L117.5,616.6 L118.0,616.2 L118.5,616.8 L119.0,616.9 L119.5,617.4 L120.0,617.9 L120.5,617.6 L121.0,616.9 L121.5,617.2 L122.0,617.2 L122.5,617.4 L123.0,617.8 L123.5,617.0 L124.0,616.8 L124.5,616.2 L125.0,616.9 L125.5,616.5 L126.0,617.2 L126.5,617.6 L127.0,617.0 L127.5,617.7 L128.0,617.5 L128.5,617.4 L129.0,617.6 L129.5,618.3 L130.0,617.9 L130.5,617.5 L131.0,616.8 L131.5,617.2 L132.0,616.7 L132.5,616.0 L133.0,615.4 L133.5,615.0 L134.0,615.5 L134.5,615.5 L135.0,615.6 L135.5,615.4 L136.0,614.9 L136.5,614.8 L137.0,614.5 L137.5,614.4 L138.0,614.2 L138.5,613.1 L139.0,613.5 L139.5,612.8 L140.0,612.3 L140.5,612.9 L141.0,611.8 L141.5,611.9 L142.0,611.6 L142.5,612.0 L143.0,611.8 L143.5,612.0 L144.0,612.0 L144.5,611.5 L145.0,610.3 L145.5,610.5 L146.0,609.6 L146.5,610.3 L147.0,610.2 L147.5,609.3 L148.0,608.5 L148.5,608.8 L149.0,608.8 L149.5,608.9 L150.0,608.3 L150.5,606.9 L151.0,606.8 L151.5,605.5 L152.0,605.7 L152.5,605.3 L153.0,604.8 L153.5,604.4 L154.0,603.4 L154.5,603.2 L155.0,602.3 L155.5,601.9 L156.0,601.5 L156.5,601.3 L157.0,600.6 L157.5,600.5 L158.0,601.3 L158.5,600.8 L159.0,601.1 L159.5,601.3 L160.0,601.2 L160.5,600.7 L161.0,600.0 L161.5,599.5 L162.0,599.0 L162.5,599.3 L163.0,599.2 L163.5,599.4 L164.0,598.5 L164.5,598.7 L165.0,598.6 L165.5,597.2 L166.0,597.2 L166.5,596.4 L167.0,596.2 L167.5,595.5 L168.0,594.3 L168.5,593.3 L169.0,592.9 L169.5,592.3 L170.0,591.1 L170.5,592.1 L171.0,592.1 L171.5,592.1 L172.0,592.6 L172.5,592.1 L173.0,591.9 L173.5,592.4 L174.0,592.2 L174.5,592.3 L175.0,592.0 L175.5,591.8 L176.0,592.1 L176.5,592.4 L177.0,593.0 L177.5,592.8 L178.0,592.4 L178.5,592.1 L179.0,591.7 L179.5,591.9 L180.0,592.6 L180.5,591.9 L181.0,592.1 L181.5,592.7 L182.0,593.1 L182.5,593.1 L183.0,593.3 L183.5,593.9 L184.0,594.2 L184.5,593.5 L185.0,593.8 L185.5,594.0 L186.0,593.2 L186.5,592.2 L187.0,592.4 L187.5,591.2 L188.0,590.6 L188.5,590.7 L189.0,590.1 L189.5,590.2 L190.0,590.1 L190.5,589.2 L191.0,589.2 L191.5,588.8 L192.0,588.5 L192.5,587.8 L193.0,587.2 L193.5,587.1 L194.0,587.9 L194.5,589.1 L195.0,589.7 L195.5,589.0 L196.0,589.0 L196.5,589.6 L197.0,590.6 L197.5,590.9 L198.0,590.8 L198.5,590.6 L199.0,590.4 L199.5,590.3 L200.0,589.5 L200.5,589.2 L201.0,588.8 L201.5,589.1 L202.0,588.7 L202.5,589.6 L203.0,589.4 L203.5,589.4 L204.0,590.2 L204.5,590.1 L205.0,590.3 L205.5,591.1 L206.0,591.7 L206.5,591.6 L207.0,593.0 L207.5,593.0 L208.0,592.4 L208.5,592.1 L209.0,591.5 L209.5,592.0 L210.0,590.9 L210.5,590.5 L211.0,590.1 L211.5,590.7 L212.0,590.3 L212.5,590.2 L213.0,590.2 L213.5,591.0 L214.0,590.4 L214.5,591.0 L215.0,591.2 L215.5,591.0 L216.0,590.9 L216.5,591.0 L217.0,591.1 L217.5,591.0 L218.0,591.5 L218.5,591.4 L219.0,591.2 L219.5,591.9 L220.0,591.7 L220.5,591.8 L221.0,592.4 L221.5,592.1 L222.0,591.9 L222.5,589.9 L223.0,587.6 L223.5,587.5 L224.0,587.0 L224.5,587.3 L225.0,587.5 L225.5,587.1 L226.0,587.5 L226.5,588.1 L227.0,588.0 L227.5,588.0 L228.0,587.7 L228.5,588.0 L229.0,587.5 L229.5,588.2 L230.0,588.2 L230.5,588.8 L231.0,588.1 L231.5,588.4 L232.0,587.6 L232.5,587.8 L233.0,588.4 L233.5,587.9 L234.0,588.3 L234.5,587.9 L235.0,588.0 L235.5,588.9 L236.0,588.1 L236.5,588.8 L237.0,587.9 L237.5,588.3 L238.0,588.8 L238.5,589.1 L239.0,588.6 L239.5,588.6 L240.0,588.9 L240.5,589.4 L241.0,589.9 L241.5,590.1 L242.0,590.0 L242.5,590.3 L243.0,590.2 L243.5,590.0 L244.0,590.6 L244.5,589.5 L245.0,589.9 L245.5,589.4 L246.0,589.7 L246.5,590.1 L247.0,589.2 L247.5,589.2 L248.0,589.1 L248.5,589.0 L249.0,588.4 L249.5,588.8 L250.0,589.2 L250.5,589.0 L251.0,588.4 L251.5,589.0 L252.0,588.9 L252.5,588.5 L253.0,594.8 L253.5,600.6 L254.0,599.9 L254.5,599.9 L255.0,598.8 L255.5,599.0 L256.0,598.1 L256.5,598.3 L257.0,597.2 L257.5,597.0 L258.0,597.4 L258.3,597.5" fill="none" stroke="#f41616" stroke-width="1.1" stroke-linejoin="round"/>
</g>
<rect x="39.5" y="499" width="218.8" height="174.6" fill="none" stroke="#222" stroke-width="1.3" />
<line x1="39.5" y1="651.8" x2="41.5" y2="651.8" stroke="#222" stroke-width="0.8" />
<text x="35.2" y="654.6999999999999" font-size="8.1" fill="#222" text-anchor="end" font-weight="normal" >0.5</text>
<line x1="39.5" y1="629.6" x2="41.5" y2="629.6" stroke="#222" stroke-width="0.8" />
<text x="35.2" y="632.5" font-size="8.1" fill="#222" text-anchor="end" font-weight="normal" >1</text>
<line x1="39.5" y1="607.4" x2="41.5" y2="607.4" stroke="#222" stroke-width="0.8" />
<text x="35.2" y="610.3" font-size="8.1" fill="#222" text-anchor="end" font-weight="normal" >1.5</text>
<line x1="39.5" y1="585.2" x2="41.5" y2="585.2" stroke="#222" stroke-width="0.8" />
<text x="35.2" y="588.1" font-size="8.1" fill="#222" text-anchor="end" font-weight="normal" >2</text>
<line x1="39.5" y1="563.0" x2="41.5" y2="563.0" stroke="#222" stroke-width="0.8" />
<text x="35.2" y="565.9" font-size="8.1" fill="#222" text-anchor="end" font-weight="normal" >2.5</text>
<line x1="39.5" y1="540.8" x2="41.5" y2="540.8" stroke="#222" stroke-width="0.8" />
<text x="35.2" y="543.6999999999999" font-size="8.1" fill="#222" text-anchor="end" font-weight="normal" >3</text>
<line x1="39.5" y1="518.6" x2="41.5" y2="518.6" stroke="#222" stroke-width="0.8" />
<text x="35.2" y="521.5" font-size="8.1" fill="#222" text-anchor="end" font-weight="normal" >3.5</text>
<text x="35.7" y="685.8" font-size="9.6" fill="#111" text-anchor="start" font-weight="normal" >20</text>
<text x="133.2" y="686" font-size="9.6" fill="#111" text-anchor="start" font-weight="normal" >Trials</text>
<text x="246.4" y="685.8" font-size="9.4" fill="#111" text-anchor="start" font-weight="normal" >150</text>
<text transform="translate(16.8,582.8) rotate(-90)" font-size="10.1" fill="#111" text-anchor="middle">Sensitivity(D')</text>
<line x1="183.3" y1="505.5" x2="203" y2="505.5" stroke="#f41616" stroke-width="1.3" />
<line x1="183.3" y1="516.5" x2="203" y2="516.5" stroke="#f070ee" stroke-width="1.3" />
<text x="207" y="508.6" font-size="8.5" fill="#111" text-anchor="start" font-weight="normal" >hM4Di+CNO</text>
<text x="207" y="519.6" font-size="8.4" fill="#111" text-anchor="start" font-weight="normal" >mRuby+CNO</text>
<text x="272.3" y="482.8" font-size="9.8" fill="#000" text-anchor="start" font-weight="normal" >G</text>
<rect x="323.84999999999997" y="664.702" width="16.600000000000033" height="19.798000000000002" fill="#7f7f7f" stroke="#111" stroke-width="1.6" />
<rect x="350.84999999999997" y="663.66" width="15.800000000000022" height="20.840000000000032" fill="#ff8080" stroke="#111" stroke-width="1.6" />
<rect x="394.65" y="672.517" width="16.899999999999988" height="11.982999999999947" fill="#7f7f7f" stroke="#111" stroke-width="1.6" />
<rect x="421.54999999999995" y="638.652" width="16.400000000000045" height="45.847999999999956" fill="#ff8080" stroke="#111" stroke-width="1.6" />
<line x1="332.2" y1="658.45" x2="332.2" y2="669.391" stroke="#111" stroke-width="1.2" />
<line x1="327.9" y1="658.45" x2="336.5" y2="658.45" stroke="#111" stroke-width="1.2" />
<line x1="327.9" y1="669.391" x2="336.5" y2="669.391" stroke="#111" stroke-width="1.2" />
<line x1="358.8" y1="660.013" x2="358.8" y2="667.307" stroke="#111" stroke-width="1.2" />
<line x1="354.0" y1="660.013" x2="363.6" y2="660.013" stroke="#111" stroke-width="1.2" />
<line x1="354.0" y1="667.307" x2="363.6" y2="667.307" stroke="#111" stroke-width="1.2" />
<line x1="403.1" y1="669.391" x2="403.1" y2="675.122" stroke="#111" stroke-width="1.2" />
<line x1="399.6" y1="669.391" x2="406.6" y2="669.391" stroke="#111" stroke-width="1.2" />
<line x1="399.6" y1="675.122" x2="406.6" y2="675.122" stroke="#111" stroke-width="1.2" />
<line x1="429.7" y1="627.19" x2="429.7" y2="648.03" stroke="#111" stroke-width="1.2" />
<line x1="425.2" y1="627.19" x2="434.2" y2="627.19" stroke="#111" stroke-width="1.2" />
<line x1="425.2" y1="648.03" x2="434.2" y2="648.03" stroke="#111" stroke-width="1.2" />
<circle cx="332.1" cy="611.8" r="1.4" fill="#111"/>
<circle cx="332.1" cy="632.4" r="1.4" fill="#111"/>
<circle cx="330.6" cy="663.5" r="1.4" fill="#111"/>
<circle cx="333.6" cy="663.5" r="1.4" fill="#111"/>
<circle cx="332.1" cy="662" r="1.4" fill="#111"/>
<circle cx="329" cy="669.2" r="1.4" fill="#111"/>
<circle cx="332.1" cy="669.2" r="1.4" fill="#111"/>
<circle cx="335.2" cy="669.2" r="1.4" fill="#111"/>
<circle cx="323.8" cy="674.1" r="1.4" fill="#111"/>
<circle cx="326.8" cy="674.1" r="1.4" fill="#111"/>
<circle cx="329.8" cy="674.1" r="1.4" fill="#111"/>
<circle cx="332.8" cy="674.1" r="1.4" fill="#111"/>
<circle cx="335.8" cy="674.1" r="1.4" fill="#111"/>
<circle cx="338.8" cy="674.1" r="1.4" fill="#111"/>
<circle cx="341" cy="674.1" r="1.4" fill="#111"/>
<circle cx="400.3" cy="663.6" r="1.35" fill="#111"/>
<circle cx="405.8" cy="663.6" r="1.35" fill="#111"/>
<circle cx="397.7" cy="669" r="1.35" fill="#111"/>
<circle cx="403" cy="669" r="1.35" fill="#111"/>
<circle cx="407.9" cy="669" r="1.35" fill="#111"/>
<circle cx="403" cy="673" r="1.35" fill="#111"/>
<circle cx="400.3" cy="679.6" r="1.35" fill="#111"/>
<circle cx="405.8" cy="679.6" r="1.35" fill="#111"/>
<rect x="357.5" y="641.7" width="2.6" height="2.6" fill="#fc2a12" stroke="none" stroke-width="1" />
<rect x="357.5" y="647.0" width="2.6" height="2.6" fill="#fc2a12" stroke="none" stroke-width="1" />
<rect x="354.8" y="651.9000000000001" width="2.6" height="2.6" fill="#fc2a12" stroke="none" stroke-width="1" />
<rect x="360.3" y="651.9000000000001" width="2.6" height="2.6" fill="#fc2a12" stroke="none" stroke-width="1" />
<rect x="352.0" y="662.4000000000001" width="2.6" height="2.6" fill="#fc2a12" stroke="none" stroke-width="1" />
<rect x="357.5" y="662.4000000000001" width="2.6" height="2.6" fill="#fc2a12" stroke="none" stroke-width="1" />
<rect x="362.5" y="662.4000000000001" width="2.6" height="2.6" fill="#fc2a12" stroke="none" stroke-width="1" />
<rect x="352.0" y="667.9000000000001" width="2.6" height="2.6" fill="#fc2a12" stroke="none" stroke-width="1" />
<rect x="357.5" y="667.9000000000001" width="2.6" height="2.6" fill="#fc2a12" stroke="none" stroke-width="1" />
<rect x="362.5" y="667.9000000000001" width="2.6" height="2.6" fill="#fc2a12" stroke="none" stroke-width="1" />
<rect x="352.0" y="672.8000000000001" width="2.6" height="2.6" fill="#fc2a12" stroke="none" stroke-width="1" />
<rect x="357.5" y="672.8000000000001" width="2.6" height="2.6" fill="#fc2a12" stroke="none" stroke-width="1" />
<rect x="362.5" y="672.8000000000001" width="2.6" height="2.6" fill="#fc2a12" stroke="none" stroke-width="1" />
<rect x="428.4" y="553.3000000000001" width="2.6" height="2.6" fill="#fc2a12" stroke="none" stroke-width="1" />
<rect x="428.4" y="594.7" width="2.6" height="2.6" fill="#fc2a12" stroke="none" stroke-width="1" />
<rect x="428.4" y="620.7" width="2.6" height="2.6" fill="#fc2a12" stroke="none" stroke-width="1" />
<rect x="428.4" y="631.4000000000001" width="2.6" height="2.6" fill="#fc2a12" stroke="none" stroke-width="1" />
<rect x="428.4" y="636.7" width="2.6" height="2.6" fill="#fc2a12" stroke="none" stroke-width="1" />
<rect x="428.4" y="641.8000000000001" width="2.6" height="2.6" fill="#fc2a12" stroke="none" stroke-width="1" />
<rect x="425.5" y="657.5" width="2.6" height="2.6" fill="#fc2a12" stroke="none" stroke-width="1" />
<rect x="431.0" y="657.5" width="2.6" height="2.6" fill="#fc2a12" stroke="none" stroke-width="1" />
<rect x="425.5" y="667.7" width="2.6" height="2.6" fill="#fc2a12" stroke="none" stroke-width="1" />
<rect x="431.0" y="667.7" width="2.6" height="2.6" fill="#fc2a12" stroke="none" stroke-width="1" />
<rect x="428.2" y="673.0" width="2.6" height="2.6" fill="#fc2a12" stroke="none" stroke-width="1" />
<line x1="318.2" y1="527.3" x2="318.2" y2="685.3" stroke="#111" stroke-width="1.6" />
<line x1="311.8" y1="684.5" x2="446.8" y2="684.5" stroke="#111" stroke-width="1.6" />
<line x1="311.8" y1="684.5" x2="318.2" y2="684.5" stroke="#111" stroke-width="1.3" />
<text x="306.7" y="687.6" font-size="8.7" fill="#111" textLength="4.6" lengthAdjust="spacingAndGlyphs" >0</text>
<line x1="311.8" y1="632.4" x2="318.2" y2="632.4" stroke="#111" stroke-width="1.3" />
<text x="302.1" y="635.5" font-size="8.7" fill="#111" textLength="9.2" lengthAdjust="spacingAndGlyphs" >10</text>
<line x1="311.8" y1="580.3" x2="318.2" y2="580.3" stroke="#111" stroke-width="1.3" />
<text x="302.1" y="583.4" font-size="8.7" fill="#111" textLength="9.2" lengthAdjust="spacingAndGlyphs" >20</text>
<line x1="311.8" y1="528.2" x2="318.2" y2="528.2" stroke="#111" stroke-width="1.3" />
<text x="302.1" y="531.3" font-size="8.7" fill="#111" textLength="9.2" lengthAdjust="spacingAndGlyphs" >30</text>
<line x1="345.4" y1="684.5" x2="345.4" y2="691.2" stroke="#111" stroke-width="1.3" />
<line x1="416" y1="684.5" x2="416" y2="691.2" stroke="#111" stroke-width="1.3" />
<text x="333.8" y="698.7" font-size="10.3" fill="#111" textLength="28.9" lengthAdjust="spacingAndGlyphs" >mRuby</text>
<text x="407" y="698.7" font-size="10.3" fill="#111" textLength="26" lengthAdjust="spacingAndGlyphs" >hM4Di</text>
<text transform="translate(292.1,601.5) rotate(-90)" font-size="10.4" fill="#111" text-anchor="middle" textLength="75.2" lengthAdjust="spacingAndGlyphs">Number of blocks</text>
<path d="M358.8,512.7 L358.8,503.1 L429.5,503.1 L429.5,512.7" fill="none" stroke="#111" stroke-width="1.3"/>
<path d="M401.3,544.4 L401.3,535.6 L429.5,535.6 L429.5,544.4" fill="none" stroke="#111" stroke-width="1.3"/>
<path d="M394.1,488.70 L394.1,495.70 M391.07,490.45 L397.13,493.95 M391.07,493.95 L397.13,490.45" stroke="#111" stroke-width="1.8" stroke-linecap="round" fill="none"/>
<path d="M411.7,523.00 L411.7,530.00 M408.67,524.75 L414.73,528.25 M408.67,528.25 L414.73,524.75" stroke="#111" stroke-width="1.8" stroke-linecap="round" fill="none"/>
<path d="M420.6,523.00 L420.6,530.00 M417.57,524.75 L423.63,528.25 M417.57,528.25 L423.63,524.75" stroke="#111" stroke-width="1.8" stroke-linecap="round" fill="none"/>
<circle cx="454.2" cy="526" r="1.6" fill="#111"/>
<rect x="452.9" y="546.4" width="3" height="3" fill="#fc2a12" stroke="none" stroke-width="1" />
<text x="461" y="527" font-size="9.8" fill="#111" textLength="25.8" lengthAdjust="spacingAndGlyphs" >Saline</text>
<text x="460.6" y="550.3" font-size="10.1" fill="#111" textLength="21.3" lengthAdjust="spacingAndGlyphs" >CNO</text>
<text x="489.8" y="482.8" font-size="9.8" fill="#000" text-anchor="start" font-weight="normal" >H</text>
<rect x="529.55" y="583.7875" width="15.7" height="100.91250000000002" fill="#7f7f7f" stroke="#111" stroke-width="1.6" />
<rect x="555.4499999999999" y="596.518" width="15.000000000000068" height="88.18200000000002" fill="#ff8080" stroke="#111" stroke-width="1.6" />
<rect x="598.4499999999999" y="600.865" width="15.800000000000022" height="83.83500000000004" fill="#7f7f7f" stroke="#111" stroke-width="1.6" />
<rect x="624.05" y="625.0840000000001" width="15.500000000000068" height="59.615999999999985" fill="#ff8080" stroke="#111" stroke-width="1.6" />
<line x1="537.2" y1="573.6" x2="537.2" y2="592.7" stroke="#111" stroke-width="1.2" />
<line x1="532.6" y1="573.6" x2="541.8000000000001" y2="573.6" stroke="#111" stroke-width="1.2" />
<line x1="532.6" y1="592.7" x2="541.8000000000001" y2="592.7" stroke="#111" stroke-width="1.2" />
<line x1="562.8" y1="589.9" x2="562.8" y2="601.8" stroke="#111" stroke-width="1.2" />
<line x1="558.3" y1="589.9" x2="567.3" y2="589.9" stroke="#111" stroke-width="1.2" />
<line x1="558.3" y1="601.8" x2="567.3" y2="601.8" stroke="#111" stroke-width="1.2" />
<line x1="606.2" y1="594.5" x2="606.2" y2="607" stroke="#111" stroke-width="1.2" />
<line x1="601.6" y1="594.5" x2="610.8000000000001" y2="594.5" stroke="#111" stroke-width="1.2" />
<line x1="601.6" y1="607" x2="610.8000000000001" y2="607" stroke="#111" stroke-width="1.2" />
<line x1="631.8" y1="617.7" x2="631.8" y2="631.8" stroke="#111" stroke-width="1.2" />
<line x1="627.3" y1="617.7" x2="636.3" y2="617.7" stroke="#111" stroke-width="1.2" />
<line x1="627.3" y1="631.8" x2="636.3" y2="631.8" stroke="#111" stroke-width="1.2" />
<circle cx="539.1" cy="539.7" r="1.4" fill="#111"/>
<circle cx="536" cy="546.5" r="1.4" fill="#111"/>
<circle cx="541.5" cy="546.5" r="1.4" fill="#111"/>
<circle cx="539.1" cy="551.6" r="1.4" fill="#111"/>
<circle cx="539.1" cy="563.4" r="1.4" fill="#111"/>
<circle cx="537.2" cy="571.5" r="1.4" fill="#111"/>
<circle cx="537.2" cy="577" r="1.4" fill="#111"/>
<circle cx="537.2" cy="581" r="1.4" fill="#111"/>
<circle cx="537.2" cy="588.8" r="1.4" fill="#111"/>
<circle cx="537.2" cy="609.2" r="1.4" fill="#111"/>
<circle cx="537.2" cy="617.5" r="1.4" fill="#111"/>
<circle cx="537.2" cy="636.6" r="1.4" fill="#111"/>
<circle cx="537.2" cy="641.2" r="1.4" fill="#111"/>
<circle cx="606.1" cy="571.8" r="1.4" fill="#111"/>
<circle cx="603.3" cy="584" r="1.4" fill="#111"/>
<circle cx="608.5" cy="583.2" r="1.4" fill="#111"/>
<circle cx="611.1" cy="589.5" r="1.4" fill="#111"/>
<circle cx="606.1" cy="592.6" r="1.4" fill="#111"/>
<circle cx="611.1" cy="593.4" r="1.4" fill="#111"/>
<circle cx="600.9" cy="595.6" r="1.4" fill="#111"/>
<circle cx="606.1" cy="603.9" r="1.4" fill="#111"/>
<circle cx="606.1" cy="620.4" r="1.4" fill="#111"/>
<circle cx="606.1" cy="630.6" r="1.4" fill="#111"/>
<circle cx="606.1" cy="634.5" r="1.4" fill="#111"/>
<rect x="559.0" y="565.5" width="2.6" height="2.6" fill="#fc2a12" stroke="none" stroke-width="1" />
<rect x="567.1" y="564.4000000000001" width="2.6" height="2.6" fill="#fc2a12" stroke="none" stroke-width="1" />
<rect x="564.1" y="575.7" width="2.6" height="2.6" fill="#fc2a12" stroke="none" stroke-width="1" />
<rect x="559.0" y="578.5" width="2.6" height="2.6" fill="#fc2a12" stroke="none" stroke-width="1" />
<rect x="561.5" y="583.2" width="2.6" height="2.6" fill="#fc2a12" stroke="none" stroke-width="1" />
<rect x="561.5" y="587.0" width="2.6" height="2.6" fill="#fc2a12" stroke="none" stroke-width="1" />
<rect x="561.5" y="596.4000000000001" width="2.6" height="2.6" fill="#fc2a12" stroke="none" stroke-width="1" />
<rect x="561.5" y="600.5" width="2.6" height="2.6" fill="#fc2a12" stroke="none" stroke-width="1" />
<rect x="561.5" y="605.8000000000001" width="2.6" height="2.6" fill="#fc2a12" stroke="none" stroke-width="1" />
<rect x="561.5" y="618.0" width="2.6" height="2.6" fill="#fc2a12" stroke="none" stroke-width="1" />
<rect x="561.5" y="623.1" width="2.6" height="2.6" fill="#fc2a12" stroke="none" stroke-width="1" />
<rect x="561.5" y="631.4000000000001" width="2.6" height="2.6" fill="#fc2a12" stroke="none" stroke-width="1" />
<rect x="627.9000000000001" y="581.9000000000001" width="2.6" height="2.6" fill="#fc2a12" stroke="none" stroke-width="1" />
<rect x="636.2" y="585.4000000000001" width="2.6" height="2.6" fill="#fc2a12" stroke="none" stroke-width="1" />
<rect x="627.9000000000001" y="618.3000000000001" width="2.6" height="2.6" fill="#fc2a12" stroke="none" stroke-width="1" />
<rect x="627.9000000000001" y="622.2" width="2.6" height="2.6" fill="#fc2a12" stroke="none" stroke-width="1" />
<rect x="636.2" y="624.2" width="2.6" height="2.6" fill="#fc2a12" stroke="none" stroke-width="1" />
<rect x="636.2" y="630.1" width="2.6" height="2.6" fill="#fc2a12" stroke="none" stroke-width="1" />
<rect x="633.1" y="636.0" width="2.6" height="2.6" fill="#fc2a12" stroke="none" stroke-width="1" />
<rect x="627.9000000000001" y="640.2" width="2.6" height="2.6" fill="#fc2a12" stroke="none" stroke-width="1" />
<rect x="633.1" y="640.6" width="2.6" height="2.6" fill="#fc2a12" stroke="none" stroke-width="1" />
<rect x="636.2" y="645.7" width="2.6" height="2.6" fill="#fc2a12" stroke="none" stroke-width="1" />
<rect x="633.1" y="662.2" width="2.6" height="2.6" fill="#fc2a12" stroke="none" stroke-width="1" />
<line x1="520.8" y1="528.5" x2="520.8" y2="685.5" stroke="#111" stroke-width="1.6" />
<line x1="515" y1="684.7" x2="649.2" y2="684.7" stroke="#111" stroke-width="1.6" />
<line x1="515.2" y1="684.7" x2="520.8" y2="684.7" stroke="#111" stroke-width="1.3" />
<text x="507.8" y="687.9" font-size="8.9" fill="#111" textLength="4.2" lengthAdjust="spacingAndGlyphs" >0</text>
<line x1="515.2" y1="653.6500000000001" x2="520.8" y2="653.6500000000001" stroke="#111" stroke-width="1.3" />
<text x="507.8" y="656.85" font-size="8.9" fill="#111" textLength="4.2" lengthAdjust="spacingAndGlyphs" >1</text>
<line x1="515.2" y1="622.6" x2="520.8" y2="622.6" stroke="#111" stroke-width="1.3" />
<text x="507.8" y="625.8" font-size="8.9" fill="#111" textLength="4.2" lengthAdjust="spacingAndGlyphs" >2</text>
<line x1="515.2" y1="591.5500000000001" x2="520.8" y2="591.5500000000001" stroke="#111" stroke-width="1.3" />
<text x="507.8" y="594.75" font-size="8.9" fill="#111" textLength="4.2" lengthAdjust="spacingAndGlyphs" >3</text>
<line x1="515.2" y1="560.5" x2="520.8" y2="560.5" stroke="#111" stroke-width="1.3" />
<text x="507.8" y="563.7" font-size="8.9" fill="#111" textLength="4.2" lengthAdjust="spacingAndGlyphs" >4</text>
<line x1="515.2" y1="529.45" x2="520.8" y2="529.45" stroke="#111" stroke-width="1.3" />
<text x="507.8" y="532.65" font-size="8.9" fill="#111" textLength="4.2" lengthAdjust="spacingAndGlyphs" >5</text>
<line x1="550" y1="684.7" x2="550" y2="691.2" stroke="#111" stroke-width="1.3" />
<line x1="618.9" y1="684.7" x2="618.9" y2="691.2" stroke="#111" stroke-width="1.3" />
<text x="536.1" y="699.3" font-size="9.9" fill="#111" textLength="27.6" lengthAdjust="spacingAndGlyphs" >mRuby</text>
<text x="607.1" y="699.3" font-size="9.9" fill="#111" textLength="24.9" lengthAdjust="spacingAndGlyphs" >hM4Di</text>
<text transform="translate(501.4,599.9) rotate(-90)" font-size="10.6" fill="#111" text-anchor="middle" textLength="34.2" lengthAdjust="spacingAndGlyphs">D Prime</text>
<path d="M562.8,513.3 L562.8,504 L631.8,504 L631.8,513.3" fill="none" stroke="#111" stroke-width="1.3"/>
<path d="M606.2,544.9 L606.2,537.9 L631.8,537.9 L631.8,544.9" fill="none" stroke="#111" stroke-width="1.3"/>
<path d="M595.8,489.10 L595.8,496.10 M592.77,490.85 L598.83,494.35 M592.77,494.35 L598.83,490.85" stroke="#111" stroke-width="1.8" stroke-linecap="round" fill="none"/>
<path d="M613.8,524.10 L613.8,531.10 M610.77,525.85 L616.83,529.35 M610.77,529.35 L616.83,525.85" stroke="#111" stroke-width="1.8" stroke-linecap="round" fill="none"/>
<path d="M622.8,524.10 L622.8,531.10 M619.77,525.85 L625.83,529.35 M619.77,529.35 L625.83,525.85" stroke="#111" stroke-width="1.8" stroke-linecap="round" fill="none"/>
<circle cx="649.9" cy="526.5" r="1.6" fill="#111"/>
<rect x="648.4" y="546.5" width="3" height="3" fill="#fc2a12" stroke="none" stroke-width="1" />
<text x="655.3" y="527.6" font-size="9.8" fill="#111" textLength="26.9" lengthAdjust="spacingAndGlyphs" >Saline</text>
<text x="655.3" y="551" font-size="10.1" fill="#111" textLength="21.5" lengthAdjust="spacingAndGlyphs" >CNO</text>
</svg>
</body></html>
